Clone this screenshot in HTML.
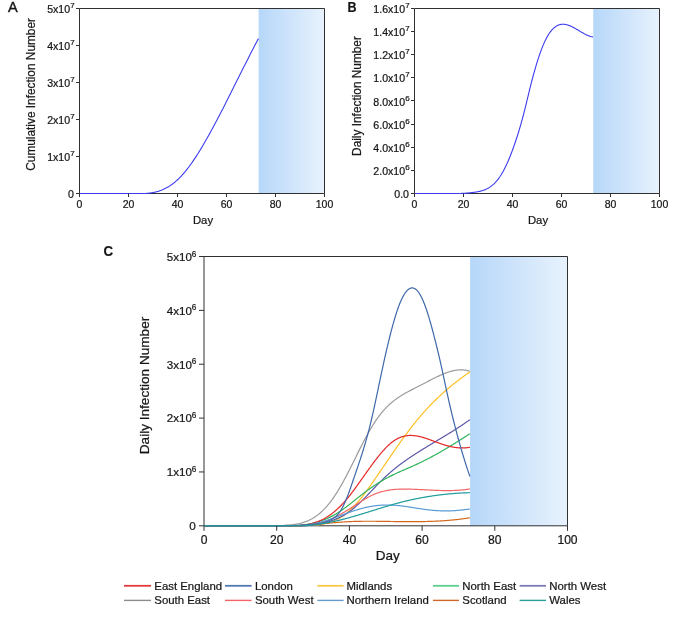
<!DOCTYPE html>
<html><head><meta charset="utf-8"><style>
html,body{margin:0;padding:0;background:#fff;}
svg{display:block;will-change:transform;filter:blur(0.35px);}
svg text{font-family:"Liberation Sans", sans-serif;fill:#161616;stroke:#161616;stroke-width:0.22px;}
</style></head><body>
<svg width="685" height="624" viewBox="0 0 685 624">
<rect width="685" height="624" fill="#fff"/>
<defs><linearGradient id="g" x1="0" x2="1" y1="0" y2="0"><stop offset="0" stop-color="#b6d7f9"/><stop offset="1" stop-color="#e8f2fd"/></linearGradient></defs>
<rect x="258.60" y="8.50" width="65.90" height="185.00" fill="url(#g)"/>
<path d="M79.5 8.5 H324.5 V193.5 H79.5 Z" fill="none" stroke="#303030" stroke-width="1"/>
<path d="M79.50 193.50 L80.00 193.50 L80.50 193.50 L81.00 193.50 L81.50 193.50 L82.00 193.50 L82.50 193.50 L83.00 193.50 L83.50 193.50 L84.00 193.50 L84.50 193.50 L85.00 193.50 L85.50 193.50 L86.00 193.50 L86.50 193.50 L87.00 193.50 L87.50 193.50 L88.00 193.50 L88.50 193.50 L89.00 193.50 L89.50 193.50 L90.00 193.50 L90.50 193.50 L91.00 193.50 L91.50 193.50 L92.00 193.50 L92.50 193.50 L93.00 193.50 L93.50 193.50 L94.00 193.50 L94.50 193.50 L95.00 193.50 L95.50 193.50 L96.00 193.50 L96.50 193.50 L97.00 193.50 L97.50 193.50 L98.00 193.50 L98.50 193.50 L99.00 193.50 L99.50 193.50 L100.00 193.50 L100.50 193.50 L101.00 193.50 L101.50 193.50 L102.00 193.50 L102.50 193.50 L103.00 193.50 L103.50 193.50 L104.00 193.50 L104.50 193.50 L105.00 193.50 L105.50 193.50 L106.00 193.50 L106.50 193.50 L107.00 193.50 L107.50 193.50 L108.00 193.50 L108.50 193.50 L109.00 193.50 L109.50 193.50 L110.00 193.50 L110.50 193.50 L111.00 193.50 L111.50 193.50 L112.00 193.50 L112.50 193.50 L113.00 193.50 L113.50 193.50 L114.00 193.50 L114.50 193.50 L115.00 193.50 L115.50 193.50 L116.00 193.50 L116.50 193.50 L117.00 193.50 L117.50 193.50 L118.00 193.50 L118.50 193.50 L119.00 193.50 L119.50 193.50 L120.00 193.50 L120.50 193.50 L121.00 193.50 L121.50 193.50 L122.00 193.50 L122.50 193.50 L123.00 193.50 L123.50 193.50 L124.00 193.50 L124.50 193.50 L125.00 193.50 L125.50 193.50 L126.00 193.50 L126.50 193.50 L127.00 193.50 L127.50 193.50 L128.00 193.50 L128.50 193.50 L129.00 193.50 L129.50 193.50 L130.00 193.50 L130.50 193.50 L131.00 193.50 L131.50 193.50 L132.00 193.50 L132.50 193.50 L133.00 193.50 L133.50 193.50 L134.00 193.50 L134.50 193.50 L135.00 193.50 L135.50 193.50 L136.00 193.50 L136.50 193.50 L137.00 193.50 L137.50 193.50 L138.00 193.50 L138.50 193.50 L139.00 193.50 L139.50 193.50 L140.00 193.50 L140.50 193.50 L141.00 193.50 L141.50 193.50 L142.00 193.50 L142.50 193.50 L143.00 193.50 L143.50 193.50 L144.00 193.50 L144.50 193.50 L145.00 193.50 L145.50 193.48 L146.00 193.45 L146.50 193.41 L147.00 193.37 L147.50 193.32 L148.00 193.28 L148.50 193.22 L149.00 193.17 L149.50 193.11 L150.00 193.04 L150.50 192.97 L151.00 192.90 L151.50 192.82 L152.00 192.74 L152.50 192.66 L153.00 192.56 L153.50 192.47 L154.00 192.37 L154.50 192.26 L155.00 192.15 L155.50 192.03 L156.00 191.91 L156.50 191.78 L157.00 191.64 L157.50 191.50 L158.00 191.36 L158.50 191.20 L159.00 191.05 L159.50 190.88 L160.00 190.71 L160.50 190.53 L161.00 190.35 L161.50 190.15 L162.00 189.96 L162.50 189.75 L163.00 189.54 L163.50 189.32 L164.00 189.09 L164.50 188.85 L165.00 188.61 L165.50 188.36 L166.00 188.10 L166.50 187.84 L167.00 187.56 L167.50 187.28 L168.00 186.99 L168.50 186.69 L169.00 186.38 L169.50 186.06 L170.00 185.74 L170.50 185.40 L171.00 185.06 L171.50 184.71 L172.00 184.35 L172.50 183.98 L173.00 183.60 L173.50 183.21 L174.00 182.81 L174.50 182.40 L175.00 181.99 L175.50 181.56 L176.00 181.13 L176.50 180.69 L177.00 180.23 L177.50 179.77 L178.00 179.30 L178.50 178.82 L179.00 178.34 L179.50 177.84 L180.00 177.33 L180.50 176.82 L181.00 176.29 L181.50 175.76 L182.00 175.22 L182.50 174.67 L183.00 174.11 L183.50 173.54 L184.00 172.97 L184.50 172.38 L185.00 171.78 L185.50 171.18 L186.00 170.57 L186.50 169.95 L187.00 169.32 L187.50 168.68 L188.00 168.03 L188.50 167.38 L189.00 166.71 L189.50 166.04 L190.00 165.36 L190.50 164.67 L191.00 163.98 L191.50 163.27 L192.00 162.56 L192.50 161.84 L193.00 161.12 L193.50 160.39 L194.00 159.65 L194.50 158.90 L195.00 158.15 L195.50 157.39 L196.00 156.62 L196.50 155.85 L197.00 155.07 L197.50 154.28 L198.00 153.49 L198.50 152.69 L199.00 151.89 L199.50 151.08 L200.00 150.26 L200.50 149.44 L201.00 148.62 L201.50 147.78 L202.00 146.95 L202.50 146.11 L203.00 145.26 L203.50 144.41 L204.00 143.55 L204.50 142.69 L205.00 141.83 L205.50 140.96 L206.00 140.09 L206.50 139.21 L207.00 138.33 L207.50 137.45 L208.00 136.56 L208.50 135.66 L209.00 134.77 L209.50 133.87 L210.00 132.96 L210.50 132.06 L211.00 131.15 L211.50 130.23 L212.00 129.31 L212.50 128.39 L213.00 127.47 L213.50 126.54 L214.00 125.61 L214.50 124.68 L215.00 123.74 L215.50 122.80 L216.00 121.86 L216.50 120.91 L217.00 119.97 L217.50 119.02 L218.00 118.06 L218.50 117.11 L219.00 116.15 L219.50 115.19 L220.00 114.23 L220.50 113.26 L221.00 112.30 L221.50 111.33 L222.00 110.36 L222.50 109.38 L223.00 108.41 L223.50 107.43 L224.00 106.45 L224.50 105.47 L225.00 104.49 L225.50 103.51 L226.00 102.52 L226.50 101.54 L227.00 100.55 L227.50 99.56 L228.00 98.57 L228.50 97.58 L229.00 96.58 L229.50 95.59 L230.00 94.60 L230.50 93.60 L231.00 92.60 L231.50 91.61 L232.00 90.61 L232.50 89.61 L233.00 88.61 L233.50 87.61 L234.00 86.61 L234.50 85.61 L235.00 84.61 L235.50 83.61 L236.00 82.61 L236.50 81.61 L237.00 80.60 L237.50 79.60 L238.00 78.60 L238.50 77.60 L239.00 76.60 L239.50 75.60 L240.00 74.60 L240.50 73.60 L241.00 72.60 L241.50 71.60 L242.00 70.60 L242.50 69.60 L243.00 68.61 L243.50 67.61 L244.00 66.61 L244.50 65.62 L245.00 64.63 L245.50 63.63 L246.00 62.64 L246.50 61.65 L247.00 60.67 L247.50 59.68 L248.00 58.69 L248.50 57.71 L249.00 56.72 L249.50 55.74 L250.00 54.76 L250.50 53.79 L251.00 52.81 L251.50 51.84 L252.00 50.86 L252.50 49.89 L253.00 48.92 L253.50 47.96 L254.00 46.99 L254.50 46.03 L255.00 45.07 L255.50 44.12 L256.00 43.16 L256.50 42.21 L257.00 41.26 L257.50 40.31 L258.00 39.37 L258.40 38.62" fill="none" stroke="#3c3cf0" stroke-width="1.1"/>
<path d="M79.5 193.5 V197.0" stroke="#303030" stroke-width="1"/>
<text x="79.50" y="207.60" font-size="10.50" text-anchor="middle">0</text>
<path d="M128.5 193.5 V197.0" stroke="#303030" stroke-width="1"/>
<text x="128.50" y="207.60" font-size="10.50" text-anchor="middle">20</text>
<path d="M177.5 193.5 V197.0" stroke="#303030" stroke-width="1"/>
<text x="177.50" y="207.60" font-size="10.50" text-anchor="middle">40</text>
<path d="M226.5 193.5 V197.0" stroke="#303030" stroke-width="1"/>
<text x="226.50" y="207.60" font-size="10.50" text-anchor="middle">60</text>
<path d="M275.5 193.5 V197.0" stroke="#303030" stroke-width="1"/>
<text x="275.50" y="207.60" font-size="10.50" text-anchor="middle">80</text>
<path d="M324.5 193.5 V197.0" stroke="#303030" stroke-width="1"/>
<text x="324.50" y="207.60" font-size="10.50" text-anchor="middle">100</text>
<path d="M76.0 193.5 H79.5" stroke="#303030" stroke-width="1"/>
<text x="74.00" y="198.00" font-size="10.60" text-anchor="end">0</text>
<path d="M76.0 156.5 H79.5" stroke="#303030" stroke-width="1"/>
<text x="74.60" y="161.00" font-size="10.6" text-anchor="end">1x10<tspan font-size="8.0" dy="-4.9">7</tspan></text>
<path d="M76.0 119.5 H79.5" stroke="#303030" stroke-width="1"/>
<text x="74.60" y="124.00" font-size="10.6" text-anchor="end">2x10<tspan font-size="8.0" dy="-4.9">7</tspan></text>
<path d="M76.0 82.5 H79.5" stroke="#303030" stroke-width="1"/>
<text x="74.60" y="87.00" font-size="10.6" text-anchor="end">3x10<tspan font-size="8.0" dy="-4.9">7</tspan></text>
<path d="M76.0 45.5 H79.5" stroke="#303030" stroke-width="1"/>
<text x="74.60" y="50.00" font-size="10.6" text-anchor="end">4x10<tspan font-size="8.0" dy="-4.9">7</tspan></text>
<path d="M76.0 8.5 H79.5" stroke="#303030" stroke-width="1"/>
<text x="74.60" y="13.00" font-size="10.6" text-anchor="end">5x10<tspan font-size="8.0" dy="-4.9">7</tspan></text>
<text x="203.00" y="224.20" font-size="11.30" text-anchor="middle">Day</text>
<text x="0" y="0" font-size="11.85" text-anchor="middle" transform="translate(34.50 94.40) rotate(-90)">Cumulative Infection Number</text>
<text transform="translate(7.90 12.10) scale(0.96 1)" font-size="15.2" style="stroke-width:0.4px">A</text>
<rect x="593.23" y="8.50" width="66.27" height="185.00" fill="url(#g)"/>
<path d="M414.5 8.5 H659.5 V193.5 H414.5 Z" fill="none" stroke="#303030" stroke-width="1"/>
<path d="M414.50 193.50 L415.00 193.50 L415.50 193.50 L416.00 193.50 L416.50 193.50 L417.00 193.50 L417.50 193.50 L418.00 193.50 L418.50 193.50 L419.00 193.50 L419.50 193.50 L420.00 193.50 L420.50 193.50 L421.00 193.50 L421.50 193.50 L422.00 193.50 L422.50 193.50 L423.00 193.50 L423.50 193.50 L424.00 193.50 L424.50 193.50 L425.00 193.50 L425.50 193.50 L426.00 193.50 L426.50 193.50 L427.00 193.50 L427.50 193.50 L428.00 193.50 L428.50 193.50 L429.00 193.50 L429.50 193.50 L430.00 193.50 L430.50 193.50 L431.00 193.50 L431.50 193.50 L432.00 193.50 L432.50 193.50 L433.00 193.50 L433.50 193.50 L434.00 193.50 L434.50 193.50 L435.00 193.50 L435.50 193.50 L436.00 193.50 L436.50 193.50 L437.00 193.50 L437.50 193.50 L438.00 193.50 L438.50 193.50 L439.00 193.50 L439.50 193.50 L440.00 193.50 L440.50 193.50 L441.00 193.50 L441.50 193.50 L442.00 193.50 L442.50 193.50 L443.00 193.50 L443.50 193.50 L444.00 193.50 L444.50 193.50 L445.00 193.50 L445.50 193.50 L446.00 193.50 L446.50 193.50 L447.00 193.50 L447.50 193.50 L448.00 193.50 L448.50 193.50 L449.00 193.50 L449.50 193.50 L450.00 193.50 L450.50 193.50 L451.00 193.50 L451.50 193.50 L452.00 193.50 L452.50 193.50 L453.00 193.50 L453.50 193.50 L454.00 193.50 L454.50 193.50 L455.00 193.50 L455.50 193.50 L456.00 193.50 L456.50 193.50 L457.00 193.50 L457.50 193.50 L458.00 193.50 L458.50 193.50 L459.00 193.50 L459.50 193.49 L460.00 193.48 L460.50 193.46 L461.00 193.44 L461.50 193.42 L462.00 193.40 L462.50 193.38 L463.00 193.35 L463.50 193.33 L464.00 193.30 L464.50 193.27 L465.00 193.24 L465.50 193.21 L466.00 193.17 L466.50 193.13 L467.00 193.10 L467.50 193.06 L468.00 193.01 L468.50 192.97 L469.00 192.92 L469.50 192.87 L470.00 192.82 L470.50 192.77 L471.00 192.71 L471.50 192.66 L472.00 192.60 L472.50 192.53 L473.00 192.47 L473.50 192.40 L474.00 192.33 L474.50 192.26 L475.00 192.19 L475.50 192.11 L476.00 192.03 L476.50 191.95 L477.00 191.86 L477.50 191.77 L478.00 191.68 L478.50 191.58 L479.00 191.48 L479.50 191.37 L480.00 191.25 L480.50 191.13 L481.00 191.00 L481.50 190.87 L482.00 190.73 L482.50 190.58 L483.00 190.42 L483.50 190.25 L484.00 190.07 L484.50 189.88 L485.00 189.68 L485.50 189.47 L486.00 189.25 L486.50 189.02 L487.00 188.77 L487.50 188.52 L488.00 188.24 L488.50 187.96 L489.00 187.66 L489.50 187.35 L490.00 187.02 L490.50 186.67 L491.00 186.31 L491.50 185.93 L492.00 185.54 L492.50 185.13 L493.00 184.70 L493.50 184.25 L494.00 183.79 L494.50 183.30 L495.00 182.79 L495.50 182.27 L496.00 181.72 L496.50 181.16 L497.00 180.57 L497.50 179.96 L498.00 179.32 L498.50 178.67 L499.00 177.99 L499.50 177.28 L500.00 176.56 L500.50 175.80 L501.00 175.03 L501.50 174.22 L502.00 173.39 L502.50 172.54 L503.00 171.65 L503.50 170.74 L504.00 169.81 L504.50 168.84 L505.00 167.85 L505.50 166.84 L506.00 165.79 L506.50 164.73 L507.00 163.64 L507.50 162.52 L508.00 161.38 L508.50 160.21 L509.00 159.02 L509.50 157.81 L510.00 156.58 L510.50 155.32 L511.00 154.04 L511.50 152.73 L512.00 151.41 L512.50 150.06 L513.00 148.69 L513.50 147.30 L514.00 145.89 L514.50 144.46 L515.00 143.00 L515.50 141.53 L516.00 140.04 L516.50 138.53 L517.00 136.99 L517.50 135.44 L518.00 133.85 L518.50 132.25 L519.00 130.61 L519.50 128.95 L520.00 127.27 L520.50 125.55 L521.00 123.80 L521.50 122.02 L522.00 120.21 L522.50 118.37 L523.00 116.49 L523.50 114.57 L524.00 112.62 L524.50 110.64 L525.00 108.64 L525.50 106.62 L526.00 104.57 L526.50 102.52 L527.00 100.46 L527.50 98.39 L528.00 96.32 L528.50 94.26 L529.00 92.20 L529.50 90.16 L530.00 88.13 L530.50 86.12 L531.00 84.14 L531.50 82.19 L532.00 80.26 L532.50 78.36 L533.00 76.49 L533.50 74.64 L534.00 72.83 L534.50 71.05 L535.00 69.29 L535.50 67.57 L536.00 65.87 L536.50 64.21 L537.00 62.58 L537.50 60.98 L538.00 59.41 L538.50 57.88 L539.00 56.38 L539.50 54.91 L540.00 53.47 L540.50 52.07 L541.00 50.71 L541.50 49.38 L542.00 48.08 L542.50 46.82 L543.00 45.59 L543.50 44.40 L544.00 43.25 L544.50 42.14 L545.00 41.06 L545.50 40.02 L546.00 39.02 L546.50 38.05 L547.00 37.13 L547.50 36.24 L548.00 35.39 L548.50 34.58 L549.00 33.80 L549.50 33.06 L550.00 32.35 L550.50 31.68 L551.00 31.04 L551.50 30.43 L552.00 29.86 L552.50 29.32 L553.00 28.81 L553.50 28.33 L554.00 27.88 L554.50 27.46 L555.00 27.07 L555.50 26.70 L556.00 26.37 L556.50 26.06 L557.00 25.78 L557.50 25.52 L558.00 25.29 L558.50 25.09 L559.00 24.90 L559.50 24.75 L560.00 24.61 L560.50 24.50 L561.00 24.41 L561.50 24.34 L562.00 24.29 L562.50 24.26 L563.00 24.25 L563.50 24.26 L564.00 24.29 L564.50 24.33 L565.00 24.40 L565.50 24.48 L566.00 24.57 L566.50 24.68 L567.00 24.81 L567.50 24.95 L568.00 25.10 L568.50 25.26 L569.00 25.44 L569.50 25.63 L570.00 25.83 L570.50 26.05 L571.00 26.27 L571.50 26.50 L572.00 26.74 L572.50 26.99 L573.00 27.24 L573.50 27.50 L574.00 27.77 L574.50 28.05 L575.00 28.33 L575.50 28.62 L576.00 28.90 L576.50 29.20 L577.00 29.49 L577.50 29.79 L578.00 30.09 L578.50 30.39 L579.00 30.69 L579.50 31.00 L580.00 31.30 L580.50 31.60 L581.00 31.89 L581.50 32.19 L582.00 32.48 L582.50 32.77 L583.00 33.06 L583.50 33.34 L584.00 33.61 L584.50 33.88 L585.00 34.14 L585.50 34.40 L586.00 34.65 L586.50 34.89 L587.00 35.12 L587.50 35.34 L588.00 35.55 L588.50 35.75 L589.00 35.94 L589.50 36.11 L590.00 36.28 L590.50 36.43 L591.00 36.57 L591.50 36.69 L592.00 36.80 L592.50 36.90 L593.00 36.97" fill="none" stroke="#3c3cf0" stroke-width="1.1"/>
<path d="M414.5 193.5 V197.0" stroke="#303030" stroke-width="1"/>
<text x="414.50" y="207.60" font-size="10.50" text-anchor="middle">0</text>
<path d="M463.5 193.5 V197.0" stroke="#303030" stroke-width="1"/>
<text x="463.50" y="207.60" font-size="10.50" text-anchor="middle">20</text>
<path d="M512.5 193.5 V197.0" stroke="#303030" stroke-width="1"/>
<text x="512.50" y="207.60" font-size="10.50" text-anchor="middle">40</text>
<path d="M561.5 193.5 V197.0" stroke="#303030" stroke-width="1"/>
<text x="561.50" y="207.60" font-size="10.50" text-anchor="middle">60</text>
<path d="M610.5 193.5 V197.0" stroke="#303030" stroke-width="1"/>
<text x="610.50" y="207.60" font-size="10.50" text-anchor="middle">80</text>
<path d="M659.5 193.5 V197.0" stroke="#303030" stroke-width="1"/>
<text x="659.50" y="207.60" font-size="10.50" text-anchor="middle">100</text>
<path d="M411.0 193.5 H414.5" stroke="#303030" stroke-width="1"/>
<text x="409.00" y="198.00" font-size="10.60" text-anchor="end">0.0</text>
<path d="M411.0 170.5 H414.5" stroke="#303030" stroke-width="1"/>
<text x="409.60" y="174.88" font-size="10.6" text-anchor="end">2.0x10<tspan font-size="8.0" dy="-4.9">6</tspan></text>
<path d="M411.0 147.5 H414.5" stroke="#303030" stroke-width="1"/>
<text x="409.60" y="151.75" font-size="10.6" text-anchor="end">4.0x10<tspan font-size="8.0" dy="-4.9">6</tspan></text>
<path d="M411.0 124.5 H414.5" stroke="#303030" stroke-width="1"/>
<text x="409.60" y="128.62" font-size="10.6" text-anchor="end">6.0x10<tspan font-size="8.0" dy="-4.9">6</tspan></text>
<path d="M411.0 100.5 H414.5" stroke="#303030" stroke-width="1"/>
<text x="409.60" y="105.50" font-size="10.6" text-anchor="end">8.0x10<tspan font-size="8.0" dy="-4.9">6</tspan></text>
<path d="M411.0 77.5 H414.5" stroke="#303030" stroke-width="1"/>
<text x="409.60" y="82.38" font-size="10.6" text-anchor="end">1.0x10<tspan font-size="8.0" dy="-4.9">7</tspan></text>
<path d="M411.0 54.5 H414.5" stroke="#303030" stroke-width="1"/>
<text x="409.60" y="59.25" font-size="10.6" text-anchor="end">1.2x10<tspan font-size="8.0" dy="-4.9">7</tspan></text>
<path d="M411.0 31.5 H414.5" stroke="#303030" stroke-width="1"/>
<text x="409.60" y="36.12" font-size="10.6" text-anchor="end">1.4x10<tspan font-size="8.0" dy="-4.9">7</tspan></text>
<path d="M411.0 8.5 H414.5" stroke="#303030" stroke-width="1"/>
<text x="409.60" y="13.00" font-size="10.6" text-anchor="end">1.6x10<tspan font-size="8.0" dy="-4.9">7</tspan></text>
<text x="538.00" y="224.20" font-size="11.30" text-anchor="middle">Day</text>
<text x="0" y="0" font-size="11.85" text-anchor="middle" transform="translate(361.30 96.00) rotate(-90)">Daily Infection Number</text>
<text transform="translate(347.60 12.20) scale(0.81 1)" font-size="15.5" font-weight="bold">B</text>
<rect x="470.08" y="256.50" width="97.42" height="269.30" fill="url(#g)"/>
<path d="M204.0 256.5 H567.5 V525.8 H204.0 Z" fill="none" stroke="#303030" stroke-width="1"/>
<path d="M204.00 525.80 L204.50 525.80 L205.00 525.80 L205.50 525.80 L206.00 525.80 L206.50 525.80 L207.00 525.80 L207.50 525.80 L208.00 525.80 L208.50 525.80 L209.00 525.80 L209.50 525.80 L210.00 525.80 L210.50 525.80 L211.00 525.80 L211.50 525.80 L212.00 525.80 L212.50 525.80 L213.00 525.80 L213.50 525.80 L214.00 525.80 L214.50 525.80 L215.00 525.80 L215.50 525.80 L216.00 525.80 L216.50 525.80 L217.00 525.80 L217.50 525.80 L218.00 525.80 L218.50 525.80 L219.00 525.80 L219.50 525.80 L220.00 525.80 L220.50 525.80 L221.00 525.80 L221.50 525.80 L222.00 525.80 L222.50 525.80 L223.00 525.80 L223.50 525.80 L224.00 525.80 L224.50 525.80 L225.00 525.80 L225.50 525.80 L226.00 525.80 L226.50 525.80 L227.00 525.80 L227.50 525.80 L228.00 525.80 L228.50 525.80 L229.00 525.80 L229.50 525.80 L230.00 525.80 L230.50 525.80 L231.00 525.80 L231.50 525.80 L232.00 525.80 L232.50 525.80 L233.00 525.80 L233.50 525.80 L234.00 525.80 L234.50 525.80 L235.00 525.80 L235.50 525.80 L236.00 525.80 L236.50 525.80 L237.00 525.80 L237.50 525.80 L238.00 525.80 L238.50 525.80 L239.00 525.80 L239.50 525.80 L240.00 525.80 L240.50 525.80 L241.00 525.80 L241.50 525.80 L242.00 525.80 L242.50 525.80 L243.00 525.80 L243.50 525.80 L244.00 525.80 L244.50 525.80 L245.00 525.80 L245.50 525.80 L246.00 525.80 L246.50 525.80 L247.00 525.80 L247.50 525.80 L248.00 525.80 L248.50 525.80 L249.00 525.80 L249.50 525.80 L250.00 525.80 L250.50 525.80 L251.00 525.80 L251.50 525.80 L252.00 525.80 L252.50 525.80 L253.00 525.80 L253.50 525.80 L254.00 525.80 L254.50 525.80 L255.00 525.80 L255.50 525.80 L256.00 525.80 L256.50 525.80 L257.00 525.80 L257.50 525.80 L258.00 525.80 L258.50 525.80 L259.00 525.80 L259.50 525.80 L260.00 525.80 L260.50 525.80 L261.00 525.80 L261.50 525.80 L262.00 525.80 L262.50 525.80 L263.00 525.80 L263.50 525.80 L264.00 525.80 L264.50 525.80 L265.00 525.80 L265.50 525.80 L266.00 525.80 L266.50 525.80 L267.00 525.80 L267.50 525.80 L268.00 525.80 L268.50 525.80 L269.00 525.80 L269.50 525.80 L270.00 525.80 L270.50 525.80 L271.00 525.80 L271.50 525.80 L272.00 525.80 L272.50 525.80 L273.00 525.80 L273.50 525.80 L274.00 525.80 L274.50 525.80 L275.00 525.80 L275.50 525.80 L276.00 525.80 L276.50 525.80 L277.00 525.80 L277.50 525.80 L278.00 525.80 L278.50 525.80 L279.00 525.80 L279.50 525.80 L280.00 525.80 L280.50 525.76 L281.00 525.72 L281.50 525.68 L282.00 525.64 L282.50 525.60 L283.00 525.55 L283.50 525.50 L284.00 525.44 L284.50 525.38 L285.00 525.32 L285.50 525.25 L286.00 525.18 L286.50 525.15 L287.00 525.13 L287.50 525.10 L288.00 525.07 L288.50 525.04 L289.00 525.00 L289.50 524.96 L290.00 524.92 L290.50 524.88 L291.00 524.83 L291.50 524.78 L292.00 524.73 L292.50 524.68 L293.00 524.62 L293.50 524.56 L294.00 524.49 L294.50 524.42 L295.00 524.35 L295.50 524.27 L296.00 524.19 L296.50 524.11 L297.00 524.02 L297.50 523.93 L298.00 523.83 L298.50 523.72 L299.00 523.62 L299.50 523.50 L300.00 523.39 L300.50 523.26 L301.00 523.14 L301.50 523.00 L302.00 522.86 L302.50 522.72 L303.00 522.57 L303.50 522.41 L304.00 522.25 L304.50 522.08 L305.00 521.90 L305.50 521.72 L306.00 521.54 L306.50 521.34 L307.00 521.14 L307.50 520.93 L308.00 520.72 L308.50 520.49 L309.00 520.27 L309.50 520.03 L310.00 519.78 L310.50 519.53 L311.00 519.27 L311.50 519.01 L312.00 518.73 L312.50 518.45 L313.00 518.15 L313.50 517.85 L314.00 517.55 L314.50 517.23 L315.00 516.90 L315.50 516.57 L316.00 516.22 L316.50 515.87 L317.00 515.51 L317.50 515.14 L318.00 514.76 L318.50 514.37 L319.00 513.97 L319.50 513.56 L320.00 513.14 L320.50 512.71 L321.00 512.27 L321.50 511.82 L322.00 511.36 L322.50 510.88 L323.00 510.40 L323.50 509.91 L324.00 509.40 L324.50 508.89 L325.00 508.36 L325.50 507.83 L326.00 507.28 L326.50 506.72 L327.00 506.15 L327.50 505.56 L328.00 504.97 L328.50 504.36 L329.00 503.74 L329.50 503.11 L330.00 502.47 L330.50 501.82 L331.00 501.16 L331.50 500.48 L332.00 499.80 L332.50 499.10 L333.00 498.39 L333.50 497.67 L334.00 496.95 L334.50 496.21 L335.00 495.46 L335.50 494.70 L336.00 493.93 L336.50 493.14 L337.00 492.35 L337.50 491.55 L338.00 490.74 L338.50 489.92 L339.00 489.09 L339.50 488.24 L340.00 487.39 L340.50 486.53 L341.00 485.66 L341.50 484.78 L342.00 483.89 L342.50 483.00 L343.00 482.09 L343.50 481.18 L344.00 480.25 L344.50 479.33 L345.00 478.39 L345.50 477.45 L346.00 476.50 L346.50 475.54 L347.00 474.58 L347.50 473.62 L348.00 472.65 L348.50 471.67 L349.00 470.69 L349.50 469.70 L350.00 468.71 L350.50 467.72 L351.00 466.72 L351.50 465.72 L352.00 464.72 L352.50 463.72 L353.00 462.71 L353.50 461.70 L354.00 460.69 L354.50 459.68 L355.00 458.67 L355.50 457.66 L356.00 456.65 L356.50 455.65 L357.00 454.64 L357.50 453.63 L358.00 452.63 L358.50 451.62 L359.00 450.62 L359.50 449.63 L360.00 448.63 L360.50 447.64 L361.00 446.66 L361.50 445.67 L362.00 444.70 L362.50 443.72 L363.00 442.76 L363.50 441.80 L364.00 440.84 L364.50 439.89 L365.00 438.95 L365.50 438.02 L366.00 437.09 L366.50 436.17 L367.00 435.26 L367.50 434.36 L368.00 433.46 L368.50 432.58 L369.00 431.70 L369.50 430.83 L370.00 429.97 L370.50 429.11 L371.00 428.27 L371.50 427.43 L372.00 426.61 L372.50 425.79 L373.00 424.99 L373.50 424.19 L374.00 423.40 L374.50 422.63 L375.00 421.86 L375.50 421.11 L376.00 420.36 L376.50 419.63 L377.00 418.91 L377.50 418.20 L378.00 417.50 L378.50 416.81 L379.00 416.14 L379.50 415.48 L380.00 414.82 L380.50 414.18 L381.00 413.56 L381.50 412.94 L382.00 412.33 L382.50 411.74 L383.00 411.15 L383.50 410.58 L384.00 410.01 L384.50 409.46 L385.00 408.91 L385.50 408.38 L386.00 407.86 L386.50 407.34 L387.00 406.84 L387.50 406.34 L388.00 405.85 L388.50 405.37 L389.00 404.90 L389.50 404.44 L390.00 403.99 L390.50 403.54 L391.00 403.11 L391.50 402.68 L392.00 402.25 L392.50 401.84 L393.00 401.43 L393.50 401.03 L394.00 400.64 L394.50 400.25 L395.00 399.87 L395.50 399.50 L396.00 399.13 L396.50 398.77 L397.00 398.41 L397.50 398.06 L398.00 397.72 L398.50 397.38 L399.00 397.05 L399.50 396.72 L400.00 396.39 L400.50 396.07 L401.00 395.76 L401.50 395.45 L402.00 395.14 L402.50 394.84 L403.00 394.54 L403.50 394.24 L404.00 393.95 L404.50 393.66 L405.00 393.38 L405.50 393.09 L406.00 392.81 L406.50 392.54 L407.00 392.26 L407.50 391.99 L408.00 391.72 L408.50 391.45 L409.00 391.18 L409.50 390.92 L410.00 390.65 L410.50 390.39 L411.00 390.13 L411.50 389.87 L412.00 389.61 L412.50 389.35 L413.00 389.10 L413.50 388.84 L414.00 388.59 L414.50 388.33 L415.00 388.08 L415.50 387.83 L416.00 387.57 L416.50 387.32 L417.00 387.07 L417.50 386.82 L418.00 386.56 L418.50 386.31 L419.00 386.06 L419.50 385.81 L420.00 385.55 L420.50 385.30 L421.00 385.04 L421.50 384.79 L422.00 384.53 L422.50 384.27 L423.00 384.01 L423.50 383.75 L424.00 383.49 L424.50 383.23 L425.00 382.97 L425.50 382.71 L426.00 382.45 L426.50 382.19 L427.00 381.92 L427.50 381.66 L428.00 381.40 L428.50 381.14 L429.00 380.88 L429.50 380.61 L430.00 380.35 L430.50 380.09 L431.00 379.83 L431.50 379.57 L432.00 379.32 L432.50 379.06 L433.00 378.80 L433.50 378.55 L434.00 378.30 L434.50 378.05 L435.00 377.80 L435.50 377.55 L436.00 377.30 L436.50 377.06 L437.00 376.81 L437.50 376.57 L438.00 376.34 L438.50 376.10 L439.00 375.87 L439.50 375.64 L440.00 375.41 L440.50 375.18 L441.00 374.96 L441.50 374.74 L442.00 374.52 L442.50 374.31 L443.00 374.10 L443.50 373.89 L444.00 373.69 L444.50 373.49 L445.00 373.29 L445.50 373.10 L446.00 372.91 L446.50 372.73 L447.00 372.55 L447.50 372.38 L448.00 372.21 L448.50 372.04 L449.00 371.88 L449.50 371.73 L450.00 371.58 L450.50 371.43 L451.00 371.30 L451.50 371.16 L452.00 371.03 L452.50 370.91 L453.00 370.80 L453.50 370.69 L454.00 370.58 L454.50 370.48 L455.00 370.39 L455.50 370.31 L456.00 370.23 L456.50 370.16 L457.00 370.10 L457.50 370.04 L458.00 369.99 L458.50 369.95 L459.00 369.91 L459.50 369.89 L460.00 369.87 L460.50 369.86 L461.00 369.85 L461.50 369.86 L462.00 369.87 L462.50 369.89 L463.00 369.92 L463.50 369.96 L464.00 370.01 L464.50 370.06 L465.00 370.13 L465.50 370.21 L466.00 370.29 L466.50 370.38 L467.00 370.49 L467.50 370.60 L468.00 370.72 L468.50 370.85 L469.00 371.00 L469.50 371.15 L469.90 371.28" fill="none" stroke="#9b9b9b" stroke-width="1.2"/>
<path d="M204.00 525.80 L204.50 525.80 L205.00 525.80 L205.50 525.80 L206.00 525.80 L206.50 525.80 L207.00 525.80 L207.50 525.80 L208.00 525.80 L208.50 525.80 L209.00 525.80 L209.50 525.80 L210.00 525.80 L210.50 525.80 L211.00 525.80 L211.50 525.80 L212.00 525.80 L212.50 525.80 L213.00 525.80 L213.50 525.80 L214.00 525.80 L214.50 525.80 L215.00 525.80 L215.50 525.80 L216.00 525.80 L216.50 525.80 L217.00 525.80 L217.50 525.80 L218.00 525.80 L218.50 525.80 L219.00 525.80 L219.50 525.80 L220.00 525.80 L220.50 525.80 L221.00 525.80 L221.50 525.80 L222.00 525.80 L222.50 525.80 L223.00 525.80 L223.50 525.80 L224.00 525.80 L224.50 525.80 L225.00 525.80 L225.50 525.80 L226.00 525.80 L226.50 525.80 L227.00 525.80 L227.50 525.80 L228.00 525.80 L228.50 525.80 L229.00 525.80 L229.50 525.80 L230.00 525.80 L230.50 525.80 L231.00 525.80 L231.50 525.80 L232.00 525.80 L232.50 525.80 L233.00 525.80 L233.50 525.80 L234.00 525.80 L234.50 525.80 L235.00 525.80 L235.50 525.80 L236.00 525.80 L236.50 525.80 L237.00 525.80 L237.50 525.80 L238.00 525.80 L238.50 525.80 L239.00 525.80 L239.50 525.80 L240.00 525.80 L240.50 525.80 L241.00 525.80 L241.50 525.80 L242.00 525.80 L242.50 525.80 L243.00 525.80 L243.50 525.80 L244.00 525.80 L244.50 525.80 L245.00 525.80 L245.50 525.80 L246.00 525.80 L246.50 525.80 L247.00 525.80 L247.50 525.80 L248.00 525.80 L248.50 525.80 L249.00 525.80 L249.50 525.80 L250.00 525.80 L250.50 525.80 L251.00 525.80 L251.50 525.80 L252.00 525.80 L252.50 525.80 L253.00 525.80 L253.50 525.80 L254.00 525.80 L254.50 525.80 L255.00 525.80 L255.50 525.80 L256.00 525.80 L256.50 525.80 L257.00 525.80 L257.50 525.80 L258.00 525.80 L258.50 525.80 L259.00 525.80 L259.50 525.80 L260.00 525.80 L260.50 525.80 L261.00 525.80 L261.50 525.80 L262.00 525.80 L262.50 525.80 L263.00 525.80 L263.50 525.80 L264.00 525.80 L264.50 525.80 L265.00 525.80 L265.50 525.80 L266.00 525.80 L266.50 525.80 L267.00 525.80 L267.50 525.80 L268.00 525.80 L268.50 525.80 L269.00 525.80 L269.50 525.80 L270.00 525.80 L270.50 525.80 L271.00 525.80 L271.50 525.80 L272.00 525.80 L272.50 525.80 L273.00 525.80 L273.50 525.80 L274.00 525.80 L274.50 525.80 L275.00 525.80 L275.50 525.80 L276.00 525.80 L276.50 525.80 L277.00 525.80 L277.50 525.80 L278.00 525.80 L278.50 525.80 L279.00 525.80 L279.50 525.80 L280.00 525.80 L280.50 525.80 L281.00 525.80 L281.50 525.80 L282.00 525.80 L282.50 525.80 L283.00 525.80 L283.50 525.80 L284.00 525.80 L284.50 525.80 L285.00 525.80 L285.50 525.80 L286.00 525.80 L286.50 525.80 L287.00 525.80 L287.50 525.80 L288.00 525.80 L288.50 525.80 L289.00 525.80 L289.50 525.80 L290.00 525.80 L290.50 525.80 L291.00 525.80 L291.50 525.80 L292.00 525.80 L292.50 525.80 L293.00 525.80 L293.50 525.80 L294.00 525.80 L294.50 525.80 L295.00 525.80 L295.50 525.78 L296.00 525.75 L296.50 525.72 L297.00 525.69 L297.50 525.66 L298.00 525.63 L298.50 525.60 L299.00 525.57 L299.50 525.53 L300.00 525.50 L300.50 525.46 L301.00 525.42 L301.50 525.41 L302.00 525.41 L302.50 525.40 L303.00 525.39 L303.50 525.38 L304.00 525.37 L304.50 525.37 L305.00 525.36 L305.50 525.35 L306.00 525.34 L306.50 525.34 L307.00 525.33 L307.50 525.32 L308.00 525.31 L308.50 525.30 L309.00 525.29 L309.50 525.28 L310.00 525.26 L310.50 525.25 L311.00 525.23 L311.50 525.22 L312.00 525.20 L312.50 525.18 L313.00 525.15 L313.50 525.13 L314.00 525.10 L314.50 525.08 L315.00 525.04 L315.50 525.01 L316.00 524.98 L316.50 524.94 L317.00 524.90 L317.50 524.85 L318.00 524.80 L318.50 524.75 L319.00 524.70 L319.50 524.64 L320.00 524.58 L320.50 524.52 L321.00 524.45 L321.50 524.38 L322.00 524.30 L322.50 524.22 L323.00 524.14 L323.50 524.05 L324.00 523.95 L324.50 523.86 L325.00 523.75 L325.50 523.65 L326.00 523.53 L326.50 523.42 L327.00 523.29 L327.50 523.17 L328.00 523.03 L328.50 522.89 L329.00 522.75 L329.50 522.60 L330.00 522.44 L330.50 522.28 L331.00 522.11 L331.50 521.93 L332.00 521.75 L332.50 521.56 L333.00 521.37 L333.50 521.17 L334.00 520.96 L334.50 520.74 L335.00 520.52 L335.50 520.29 L336.00 520.05 L336.50 519.80 L337.00 519.55 L337.50 519.29 L338.00 519.02 L338.50 518.74 L339.00 518.46 L339.50 518.17 L340.00 517.87 L340.50 517.56 L341.00 517.24 L341.50 516.92 L342.00 516.58 L342.50 516.24 L343.00 515.89 L343.50 515.54 L344.00 515.17 L344.50 514.80 L345.00 514.42 L345.50 514.03 L346.00 513.64 L346.50 513.23 L347.00 512.82 L347.50 512.40 L348.00 511.98 L348.50 511.54 L349.00 511.10 L349.50 510.65 L350.00 510.19 L350.50 509.73 L351.00 509.26 L351.50 508.78 L352.00 508.29 L352.50 507.80 L353.00 507.29 L353.50 506.78 L354.00 506.27 L354.50 505.74 L355.00 505.21 L355.50 504.67 L356.00 504.13 L356.50 503.57 L357.00 503.01 L357.50 502.45 L358.00 501.87 L358.50 501.29 L359.00 500.70 L359.50 500.11 L360.00 499.50 L360.50 498.89 L361.00 498.27 L361.50 497.65 L362.00 497.02 L362.50 496.38 L363.00 495.74 L363.50 495.09 L364.00 494.43 L364.50 493.77 L365.00 493.10 L365.50 492.42 L366.00 491.75 L366.50 491.06 L367.00 490.38 L367.50 489.68 L368.00 488.99 L368.50 488.29 L369.00 487.58 L369.50 486.88 L370.00 486.17 L370.50 485.46 L371.00 484.74 L371.50 484.02 L372.00 483.31 L372.50 482.58 L373.00 481.86 L373.50 481.14 L374.00 480.42 L374.50 479.69 L375.00 478.96 L375.50 478.24 L376.00 477.51 L376.50 476.78 L377.00 476.05 L377.50 475.32 L378.00 474.59 L378.50 473.86 L379.00 473.13 L379.50 472.40 L380.00 471.67 L380.50 470.93 L381.00 470.20 L381.50 469.47 L382.00 468.73 L382.50 468.00 L383.00 467.27 L383.50 466.53 L384.00 465.80 L384.50 465.07 L385.00 464.33 L385.50 463.60 L386.00 462.87 L386.50 462.14 L387.00 461.40 L387.50 460.67 L388.00 459.94 L388.50 459.21 L389.00 458.48 L389.50 457.75 L390.00 457.02 L390.50 456.29 L391.00 455.57 L391.50 454.84 L392.00 454.12 L392.50 453.39 L393.00 452.67 L393.50 451.95 L394.00 451.22 L394.50 450.50 L395.00 449.79 L395.50 449.07 L396.00 448.35 L396.50 447.64 L397.00 446.92 L397.50 446.21 L398.00 445.50 L398.50 444.79 L399.00 444.08 L399.50 443.38 L400.00 442.68 L400.50 441.97 L401.00 441.27 L401.50 440.58 L402.00 439.88 L402.50 439.18 L403.00 438.49 L403.50 437.80 L404.00 437.12 L404.50 436.43 L405.00 435.75 L405.50 435.07 L406.00 434.39 L406.50 433.71 L407.00 433.04 L407.50 432.37 L408.00 431.70 L408.50 431.03 L409.00 430.37 L409.50 429.71 L410.00 429.05 L410.50 428.40 L411.00 427.75 L411.50 427.10 L412.00 426.46 L412.50 425.81 L413.00 425.17 L413.50 424.54 L414.00 423.91 L414.50 423.28 L415.00 422.65 L415.50 422.03 L416.00 421.41 L416.50 420.79 L417.00 420.18 L417.50 419.57 L418.00 418.97 L418.50 418.37 L419.00 417.77 L419.50 417.18 L420.00 416.59 L420.50 416.00 L421.00 415.42 L421.50 414.84 L422.00 414.27 L422.50 413.69 L423.00 413.13 L423.50 412.56 L424.00 412.00 L424.50 411.44 L425.00 410.89 L425.50 410.34 L426.00 409.79 L426.50 409.24 L427.00 408.70 L427.50 408.16 L428.00 407.63 L428.50 407.10 L429.00 406.57 L429.50 406.04 L430.00 405.52 L430.50 405.00 L431.00 404.48 L431.50 403.97 L432.00 403.46 L432.50 402.95 L433.00 402.45 L433.50 401.95 L434.00 401.45 L434.50 400.96 L435.00 400.46 L435.50 399.98 L436.00 399.49 L436.50 399.01 L437.00 398.52 L437.50 398.05 L438.00 397.57 L438.50 397.10 L439.00 396.63 L439.50 396.16 L440.00 395.70 L440.50 395.24 L441.00 394.78 L441.50 394.32 L442.00 393.87 L442.50 393.41 L443.00 392.97 L443.50 392.52 L444.00 392.08 L444.50 391.63 L445.00 391.19 L445.50 390.76 L446.00 390.32 L446.50 389.89 L447.00 389.46 L447.50 389.03 L448.00 388.61 L448.50 388.19 L449.00 387.77 L449.50 387.35 L450.00 386.93 L450.50 386.52 L451.00 386.10 L451.50 385.69 L452.00 385.29 L452.50 384.88 L453.00 384.48 L453.50 384.08 L454.00 383.68 L454.50 383.28 L455.00 382.88 L455.50 382.49 L456.00 382.10 L456.50 381.71 L457.00 381.32 L457.50 380.93 L458.00 380.55 L458.50 380.16 L459.00 379.78 L459.50 379.40 L460.00 379.03 L460.50 378.65 L461.00 378.28 L461.50 377.90 L462.00 377.53 L462.50 377.16 L463.00 376.80 L463.50 376.43 L464.00 376.06 L464.50 375.70 L465.00 375.34 L465.50 374.98 L466.00 374.62 L466.50 374.26 L467.00 373.90 L467.50 373.55 L468.00 373.20 L468.50 372.84 L469.00 372.49 L469.50 372.14 L469.90 371.86" fill="none" stroke="#fcc020" stroke-width="1.2"/>
<path d="M204.00 525.80 L204.50 525.80 L205.00 525.80 L205.50 525.80 L206.00 525.80 L206.50 525.80 L207.00 525.80 L207.50 525.80 L208.00 525.80 L208.50 525.80 L209.00 525.80 L209.50 525.80 L210.00 525.80 L210.50 525.80 L211.00 525.80 L211.50 525.80 L212.00 525.80 L212.50 525.80 L213.00 525.80 L213.50 525.80 L214.00 525.80 L214.50 525.80 L215.00 525.80 L215.50 525.80 L216.00 525.80 L216.50 525.80 L217.00 525.80 L217.50 525.80 L218.00 525.80 L218.50 525.80 L219.00 525.80 L219.50 525.80 L220.00 525.80 L220.50 525.80 L221.00 525.80 L221.50 525.80 L222.00 525.80 L222.50 525.80 L223.00 525.80 L223.50 525.80 L224.00 525.80 L224.50 525.80 L225.00 525.80 L225.50 525.80 L226.00 525.80 L226.50 525.80 L227.00 525.80 L227.50 525.80 L228.00 525.80 L228.50 525.80 L229.00 525.80 L229.50 525.80 L230.00 525.80 L230.50 525.80 L231.00 525.80 L231.50 525.80 L232.00 525.80 L232.50 525.80 L233.00 525.80 L233.50 525.80 L234.00 525.80 L234.50 525.80 L235.00 525.80 L235.50 525.80 L236.00 525.80 L236.50 525.80 L237.00 525.80 L237.50 525.80 L238.00 525.80 L238.50 525.80 L239.00 525.80 L239.50 525.80 L240.00 525.80 L240.50 525.80 L241.00 525.80 L241.50 525.80 L242.00 525.80 L242.50 525.80 L243.00 525.80 L243.50 525.80 L244.00 525.80 L244.50 525.80 L245.00 525.80 L245.50 525.80 L246.00 525.80 L246.50 525.80 L247.00 525.80 L247.50 525.80 L248.00 525.80 L248.50 525.80 L249.00 525.80 L249.50 525.80 L250.00 525.80 L250.50 525.80 L251.00 525.80 L251.50 525.80 L252.00 525.80 L252.50 525.80 L253.00 525.80 L253.50 525.80 L254.00 525.80 L254.50 525.80 L255.00 525.80 L255.50 525.80 L256.00 525.80 L256.50 525.80 L257.00 525.80 L257.50 525.80 L258.00 525.80 L258.50 525.80 L259.00 525.80 L259.50 525.80 L260.00 525.80 L260.50 525.80 L261.00 525.80 L261.50 525.80 L262.00 525.80 L262.50 525.80 L263.00 525.80 L263.50 525.80 L264.00 525.80 L264.50 525.80 L265.00 525.80 L265.50 525.80 L266.00 525.80 L266.50 525.80 L267.00 525.80 L267.50 525.80 L268.00 525.80 L268.50 525.80 L269.00 525.80 L269.50 525.80 L270.00 525.80 L270.50 525.80 L271.00 525.80 L271.50 525.80 L272.00 525.80 L272.50 525.80 L273.00 525.80 L273.50 525.80 L274.00 525.80 L274.50 525.80 L275.00 525.80 L275.50 525.80 L276.00 525.80 L276.50 525.80 L277.00 525.80 L277.50 525.80 L278.00 525.80 L278.50 525.80 L279.00 525.80 L279.50 525.80 L280.00 525.80 L280.50 525.80 L281.00 525.80 L281.50 525.80 L282.00 525.80 L282.50 525.80 L283.00 525.80 L283.50 525.80 L284.00 525.80 L284.50 525.80 L285.00 525.80 L285.50 525.80 L286.00 525.80 L286.50 525.80 L287.00 525.80 L287.50 525.80 L288.00 525.80 L288.50 525.80 L289.00 525.80 L289.50 525.80 L290.00 525.80 L290.50 525.80 L291.00 525.80 L291.50 525.80 L292.00 525.80 L292.50 525.80 L293.00 525.80 L293.50 525.80 L294.00 525.80 L294.50 525.80 L295.00 525.80 L295.50 525.80 L296.00 525.80 L296.50 525.80 L297.00 525.80 L297.50 525.80 L298.00 525.80 L298.50 525.80 L299.00 525.80 L299.50 525.80 L300.00 525.80 L300.50 525.80 L301.00 525.80 L301.50 525.80 L302.00 525.80 L302.50 525.80 L303.00 525.80 L303.50 525.80 L304.00 525.80 L304.50 525.80 L305.00 525.77 L305.50 525.74 L306.00 525.71 L306.50 525.68 L307.00 525.64 L307.50 525.60 L308.00 525.56 L308.50 525.52 L309.00 525.47 L309.50 525.43 L310.00 525.38 L310.50 525.33 L311.00 525.28 L311.50 525.22 L312.00 525.16 L312.50 525.10 L313.00 525.04 L313.50 524.98 L314.00 524.91 L314.50 524.84 L315.00 524.77 L315.50 524.69 L316.00 524.62 L316.50 524.54 L317.00 524.46 L317.50 524.37 L318.00 524.29 L318.50 524.20 L319.00 524.10 L319.50 524.01 L320.00 523.91 L320.50 523.81 L321.00 523.70 L321.50 523.60 L322.00 523.49 L322.50 523.37 L323.00 523.26 L323.50 523.14 L324.00 523.02 L324.50 522.89 L325.00 522.76 L325.50 522.63 L326.00 522.50 L326.50 522.36 L327.00 522.22 L327.50 522.07 L328.00 521.92 L328.50 521.77 L329.00 521.62 L329.50 521.46 L330.00 521.30 L330.50 521.13 L331.00 520.96 L331.50 520.79 L332.00 520.61 L332.50 520.43 L333.00 520.25 L333.50 520.06 L334.00 519.87 L334.50 519.67 L335.00 519.47 L335.50 519.27 L336.00 519.06 L336.50 518.85 L337.00 518.63 L337.50 518.41 L338.00 518.19 L338.50 517.96 L339.00 517.73 L339.50 517.49 L340.00 517.25 L340.50 517.01 L341.00 516.76 L341.50 516.50 L342.00 516.24 L342.50 515.98 L343.00 515.71 L343.50 515.43 L344.00 515.15 L344.50 514.86 L345.00 514.56 L345.50 514.26 L346.00 513.95 L346.50 513.64 L347.00 513.32 L347.50 512.99 L348.00 512.66 L348.50 512.32 L349.00 511.97 L349.50 511.61 L350.00 511.25 L350.50 510.87 L351.00 510.49 L351.50 510.11 L352.00 509.71 L352.50 509.31 L353.00 508.90 L353.50 508.49 L354.00 508.07 L354.50 507.64 L355.00 507.21 L355.50 506.77 L356.00 506.32 L356.50 505.87 L357.00 505.42 L357.50 504.96 L358.00 504.49 L358.50 504.02 L359.00 503.55 L359.50 503.07 L360.00 502.59 L360.50 502.11 L361.00 501.62 L361.50 501.13 L362.00 500.63 L362.50 500.14 L363.00 499.64 L363.50 499.13 L364.00 498.63 L364.50 498.12 L365.00 497.61 L365.50 497.10 L366.00 496.59 L366.50 496.07 L367.00 495.56 L367.50 495.04 L368.00 494.52 L368.50 494.00 L369.00 493.48 L369.50 492.96 L370.00 492.44 L370.50 491.91 L371.00 491.39 L371.50 490.87 L372.00 490.34 L372.50 489.82 L373.00 489.30 L373.50 488.77 L374.00 488.25 L374.50 487.73 L375.00 487.21 L375.50 486.69 L376.00 486.17 L376.50 485.65 L377.00 485.14 L377.50 484.62 L378.00 484.11 L378.50 483.60 L379.00 483.09 L379.50 482.58 L380.00 482.08 L380.50 481.58 L381.00 481.08 L381.50 480.58 L382.00 480.09 L382.50 479.60 L383.00 479.11 L383.50 478.63 L384.00 478.15 L384.50 477.67 L385.00 477.20 L385.50 476.73 L386.00 476.26 L386.50 475.80 L387.00 475.34 L387.50 474.89 L388.00 474.44 L388.50 473.99 L389.00 473.54 L389.50 473.10 L390.00 472.67 L390.50 472.24 L391.00 471.81 L391.50 471.38 L392.00 470.96 L392.50 470.54 L393.00 470.12 L393.50 469.71 L394.00 469.29 L394.50 468.89 L395.00 468.48 L395.50 468.08 L396.00 467.68 L396.50 467.29 L397.00 466.89 L397.50 466.50 L398.00 466.11 L398.50 465.73 L399.00 465.35 L399.50 464.97 L400.00 464.59 L400.50 464.21 L401.00 463.84 L401.50 463.47 L402.00 463.10 L402.50 462.74 L403.00 462.37 L403.50 462.01 L404.00 461.65 L404.50 461.29 L405.00 460.94 L405.50 460.59 L406.00 460.23 L406.50 459.88 L407.00 459.54 L407.50 459.19 L408.00 458.85 L408.50 458.50 L409.00 458.16 L409.50 457.82 L410.00 457.48 L410.50 457.15 L411.00 456.81 L411.50 456.48 L412.00 456.15 L412.50 455.82 L413.00 455.49 L413.50 455.16 L414.00 454.83 L414.50 454.50 L415.00 454.18 L415.50 453.86 L416.00 453.53 L416.50 453.21 L417.00 452.89 L417.50 452.57 L418.00 452.26 L418.50 451.94 L419.00 451.62 L419.50 451.31 L420.00 450.99 L420.50 450.68 L421.00 450.37 L421.50 450.06 L422.00 449.75 L422.50 449.44 L423.00 449.13 L423.50 448.82 L424.00 448.51 L424.50 448.21 L425.00 447.90 L425.50 447.59 L426.00 447.29 L426.50 446.98 L427.00 446.68 L427.50 446.38 L428.00 446.07 L428.50 445.77 L429.00 445.47 L429.50 445.17 L430.00 444.87 L430.50 444.57 L431.00 444.27 L431.50 443.97 L432.00 443.67 L432.50 443.37 L433.00 443.07 L433.50 442.77 L434.00 442.47 L434.50 442.17 L435.00 441.87 L435.50 441.57 L436.00 441.27 L436.50 440.98 L437.00 440.68 L437.50 440.38 L438.00 440.08 L438.50 439.78 L439.00 439.48 L439.50 439.18 L440.00 438.88 L440.50 438.58 L441.00 438.28 L441.50 437.99 L442.00 437.69 L442.50 437.38 L443.00 437.08 L443.50 436.78 L444.00 436.48 L444.50 436.18 L445.00 435.88 L445.50 435.57 L446.00 435.27 L446.50 434.97 L447.00 434.66 L447.50 434.36 L448.00 434.05 L448.50 433.75 L449.00 433.44 L449.50 433.13 L450.00 432.82 L450.50 432.51 L451.00 432.20 L451.50 431.89 L452.00 431.58 L452.50 431.27 L453.00 430.96 L453.50 430.64 L454.00 430.33 L454.50 430.01 L455.00 429.69 L455.50 429.38 L456.00 429.06 L456.50 428.74 L457.00 428.42 L457.50 428.09 L458.00 427.77 L458.50 427.45 L459.00 427.12 L459.50 426.79 L460.00 426.46 L460.50 426.13 L461.00 425.80 L461.50 425.47 L462.00 425.14 L462.50 424.80 L463.00 424.46 L463.50 424.13 L464.00 423.79 L464.50 423.45 L465.00 423.10 L465.50 422.76 L466.00 422.41 L466.50 422.07 L467.00 421.72 L467.50 421.37 L468.00 421.01 L468.50 420.66 L469.00 420.30 L469.50 419.94 L469.90 419.66" fill="none" stroke="#5b58a8" stroke-width="1.2"/>
<path d="M204.00 525.80 L204.50 525.80 L205.00 525.80 L205.50 525.80 L206.00 525.80 L206.50 525.80 L207.00 525.80 L207.50 525.80 L208.00 525.80 L208.50 525.80 L209.00 525.80 L209.50 525.80 L210.00 525.80 L210.50 525.80 L211.00 525.80 L211.50 525.80 L212.00 525.80 L212.50 525.80 L213.00 525.80 L213.50 525.80 L214.00 525.80 L214.50 525.80 L215.00 525.80 L215.50 525.80 L216.00 525.80 L216.50 525.80 L217.00 525.80 L217.50 525.80 L218.00 525.80 L218.50 525.80 L219.00 525.80 L219.50 525.80 L220.00 525.80 L220.50 525.80 L221.00 525.80 L221.50 525.80 L222.00 525.80 L222.50 525.80 L223.00 525.80 L223.50 525.80 L224.00 525.80 L224.50 525.80 L225.00 525.80 L225.50 525.80 L226.00 525.80 L226.50 525.80 L227.00 525.80 L227.50 525.80 L228.00 525.80 L228.50 525.80 L229.00 525.80 L229.50 525.80 L230.00 525.80 L230.50 525.80 L231.00 525.80 L231.50 525.80 L232.00 525.80 L232.50 525.80 L233.00 525.80 L233.50 525.80 L234.00 525.80 L234.50 525.80 L235.00 525.80 L235.50 525.80 L236.00 525.80 L236.50 525.80 L237.00 525.80 L237.50 525.80 L238.00 525.80 L238.50 525.80 L239.00 525.80 L239.50 525.80 L240.00 525.80 L240.50 525.80 L241.00 525.80 L241.50 525.80 L242.00 525.80 L242.50 525.80 L243.00 525.80 L243.50 525.80 L244.00 525.80 L244.50 525.80 L245.00 525.80 L245.50 525.80 L246.00 525.80 L246.50 525.80 L247.00 525.80 L247.50 525.80 L248.00 525.80 L248.50 525.80 L249.00 525.80 L249.50 525.80 L250.00 525.80 L250.50 525.80 L251.00 525.80 L251.50 525.80 L252.00 525.80 L252.50 525.80 L253.00 525.80 L253.50 525.80 L254.00 525.80 L254.50 525.80 L255.00 525.80 L255.50 525.80 L256.00 525.80 L256.50 525.80 L257.00 525.80 L257.50 525.80 L258.00 525.80 L258.50 525.80 L259.00 525.80 L259.50 525.80 L260.00 525.80 L260.50 525.80 L261.00 525.80 L261.50 525.80 L262.00 525.80 L262.50 525.80 L263.00 525.80 L263.50 525.80 L264.00 525.80 L264.50 525.80 L265.00 525.80 L265.50 525.80 L266.00 525.80 L266.50 525.80 L267.00 525.80 L267.50 525.80 L268.00 525.80 L268.50 525.80 L269.00 525.80 L269.50 525.80 L270.00 525.80 L270.50 525.80 L271.00 525.80 L271.50 525.80 L272.00 525.80 L272.50 525.80 L273.00 525.80 L273.50 525.80 L274.00 525.80 L274.50 525.80 L275.00 525.80 L275.50 525.80 L276.00 525.80 L276.50 525.80 L277.00 525.80 L277.50 525.80 L278.00 525.80 L278.50 525.80 L279.00 525.80 L279.50 525.80 L280.00 525.80 L280.50 525.80 L281.00 525.80 L281.50 525.80 L282.00 525.80 L282.50 525.80 L283.00 525.80 L283.50 525.80 L284.00 525.80 L284.50 525.80 L285.00 525.80 L285.50 525.80 L286.00 525.80 L286.50 525.80 L287.00 525.80 L287.50 525.80 L288.00 525.80 L288.50 525.80 L289.00 525.80 L289.50 525.80 L290.00 525.80 L290.50 525.80 L291.00 525.80 L291.50 525.80 L292.00 525.80 L292.50 525.80 L293.00 525.80 L293.50 525.78 L294.00 525.75 L294.50 525.73 L295.00 525.70 L295.50 525.66 L296.00 525.63 L296.50 525.60 L297.00 525.56 L297.50 525.52 L298.00 525.48 L298.50 525.44 L299.00 525.39 L299.50 525.34 L300.00 525.29 L300.50 525.24 L301.00 525.19 L301.50 525.13 L302.00 525.08 L302.50 525.02 L303.00 524.95 L303.50 524.89 L304.00 524.82 L304.50 524.75 L305.00 524.68 L305.50 524.60 L306.00 524.53 L306.50 524.45 L307.00 524.36 L307.50 524.28 L308.00 524.19 L308.50 524.10 L309.00 524.01 L309.50 523.91 L310.00 523.81 L310.50 523.71 L311.00 523.61 L311.50 523.50 L312.00 523.39 L312.50 523.28 L313.00 523.16 L313.50 523.04 L314.00 522.92 L314.50 522.79 L315.00 522.66 L315.50 522.53 L316.00 522.40 L316.50 522.26 L317.00 522.12 L317.50 521.97 L318.00 521.82 L318.50 521.67 L319.00 521.52 L319.50 521.36 L320.00 521.19 L320.50 521.03 L321.00 520.86 L321.50 520.69 L322.00 520.51 L322.50 520.33 L323.00 520.14 L323.50 519.96 L324.00 519.76 L324.50 519.57 L325.00 519.37 L325.50 519.17 L326.00 518.96 L326.50 518.75 L327.00 518.53 L327.50 518.31 L328.00 518.09 L328.50 517.86 L329.00 517.63 L329.50 517.39 L330.00 517.15 L330.50 516.91 L331.00 516.66 L331.50 516.40 L332.00 516.15 L332.50 515.89 L333.00 515.62 L333.50 515.35 L334.00 515.07 L334.50 514.79 L335.00 514.51 L335.50 514.22 L336.00 513.92 L336.50 513.63 L337.00 513.32 L337.50 513.01 L338.00 512.70 L338.50 512.38 L339.00 512.06 L339.50 511.73 L340.00 511.40 L340.50 511.07 L341.00 510.72 L341.50 510.38 L342.00 510.03 L342.50 509.68 L343.00 509.32 L343.50 508.96 L344.00 508.60 L344.50 508.23 L345.00 507.86 L345.50 507.49 L346.00 507.12 L346.50 506.74 L347.00 506.36 L347.50 505.98 L348.00 505.59 L348.50 505.20 L349.00 504.82 L349.50 504.42 L350.00 504.03 L350.50 503.64 L351.00 503.24 L351.50 502.85 L352.00 502.45 L352.50 502.05 L353.00 501.65 L353.50 501.25 L354.00 500.85 L354.50 500.45 L355.00 500.05 L355.50 499.65 L356.00 499.25 L356.50 498.85 L357.00 498.45 L357.50 498.05 L358.00 497.65 L358.50 497.25 L359.00 496.86 L359.50 496.46 L360.00 496.06 L360.50 495.67 L361.00 495.28 L361.50 494.89 L362.00 494.50 L362.50 494.11 L363.00 493.73 L363.50 493.35 L364.00 492.97 L364.50 492.59 L365.00 492.21 L365.50 491.84 L366.00 491.47 L366.50 491.10 L367.00 490.73 L367.50 490.36 L368.00 490.00 L368.50 489.64 L369.00 489.28 L369.50 488.92 L370.00 488.56 L370.50 488.21 L371.00 487.86 L371.50 487.51 L372.00 487.17 L372.50 486.82 L373.00 486.48 L373.50 486.14 L374.00 485.80 L374.50 485.47 L375.00 485.14 L375.50 484.81 L376.00 484.48 L376.50 484.16 L377.00 483.83 L377.50 483.51 L378.00 483.20 L378.50 482.88 L379.00 482.57 L379.50 482.26 L380.00 481.95 L380.50 481.65 L381.00 481.35 L381.50 481.05 L382.00 480.75 L382.50 480.46 L383.00 480.17 L383.50 479.88 L384.00 479.60 L384.50 479.31 L385.00 479.03 L385.50 478.76 L386.00 478.48 L386.50 478.21 L387.00 477.94 L387.50 477.68 L388.00 477.41 L388.50 477.15 L389.00 476.89 L389.50 476.64 L390.00 476.38 L390.50 476.13 L391.00 475.88 L391.50 475.63 L392.00 475.39 L392.50 475.14 L393.00 474.90 L393.50 474.66 L394.00 474.42 L394.50 474.19 L395.00 473.95 L395.50 473.72 L396.00 473.48 L396.50 473.25 L397.00 473.02 L397.50 472.80 L398.00 472.57 L398.50 472.34 L399.00 472.12 L399.50 471.89 L400.00 471.67 L400.50 471.45 L401.00 471.23 L401.50 471.00 L402.00 470.78 L402.50 470.56 L403.00 470.35 L403.50 470.13 L404.00 469.91 L404.50 469.69 L405.00 469.47 L405.50 469.26 L406.00 469.04 L406.50 468.82 L407.00 468.60 L407.50 468.39 L408.00 468.17 L408.50 467.95 L409.00 467.73 L409.50 467.51 L410.00 467.30 L410.50 467.08 L411.00 466.86 L411.50 466.64 L412.00 466.42 L412.50 466.19 L413.00 465.97 L413.50 465.75 L414.00 465.52 L414.50 465.30 L415.00 465.07 L415.50 464.84 L416.00 464.62 L416.50 464.39 L417.00 464.15 L417.50 463.92 L418.00 463.69 L418.50 463.45 L419.00 463.22 L419.50 462.98 L420.00 462.74 L420.50 462.50 L421.00 462.26 L421.50 462.01 L422.00 461.77 L422.50 461.52 L423.00 461.28 L423.50 461.03 L424.00 460.78 L424.50 460.53 L425.00 460.28 L425.50 460.02 L426.00 459.77 L426.50 459.51 L427.00 459.26 L427.50 459.00 L428.00 458.74 L428.50 458.48 L429.00 458.22 L429.50 457.95 L430.00 457.69 L430.50 457.42 L431.00 457.16 L431.50 456.89 L432.00 456.62 L432.50 456.35 L433.00 456.08 L433.50 455.81 L434.00 455.54 L434.50 455.26 L435.00 454.99 L435.50 454.71 L436.00 454.44 L436.50 454.16 L437.00 453.88 L437.50 453.60 L438.00 453.32 L438.50 453.04 L439.00 452.75 L439.50 452.47 L440.00 452.18 L440.50 451.90 L441.00 451.61 L441.50 451.32 L442.00 451.04 L442.50 450.75 L443.00 450.45 L443.50 450.16 L444.00 449.87 L444.50 449.58 L445.00 449.28 L445.50 448.99 L446.00 448.69 L446.50 448.40 L447.00 448.10 L447.50 447.80 L448.00 447.50 L448.50 447.20 L449.00 446.90 L449.50 446.60 L450.00 446.29 L450.50 445.99 L451.00 445.69 L451.50 445.38 L452.00 445.07 L452.50 444.77 L453.00 444.46 L453.50 444.15 L454.00 443.84 L454.50 443.53 L455.00 443.22 L455.50 442.91 L456.00 442.60 L456.50 442.29 L457.00 441.98 L457.50 441.66 L458.00 441.35 L458.50 441.03 L459.00 440.72 L459.50 440.40 L460.00 440.08 L460.50 439.77 L461.00 439.45 L461.50 439.13 L462.00 438.81 L462.50 438.49 L463.00 438.17 L463.50 437.85 L464.00 437.53 L464.50 437.20 L465.00 436.88 L465.50 436.56 L466.00 436.23 L466.50 435.91 L467.00 435.58 L467.50 435.26 L468.00 434.93 L468.50 434.61 L469.00 434.28 L469.50 433.95 L469.90 433.69" fill="none" stroke="#2fb45a" stroke-width="1.2"/>
<path d="M204.00 525.80 L204.50 525.80 L205.00 525.80 L205.50 525.80 L206.00 525.80 L206.50 525.80 L207.00 525.80 L207.50 525.80 L208.00 525.80 L208.50 525.80 L209.00 525.80 L209.50 525.80 L210.00 525.80 L210.50 525.80 L211.00 525.80 L211.50 525.80 L212.00 525.80 L212.50 525.80 L213.00 525.80 L213.50 525.80 L214.00 525.80 L214.50 525.80 L215.00 525.80 L215.50 525.80 L216.00 525.80 L216.50 525.80 L217.00 525.80 L217.50 525.80 L218.00 525.80 L218.50 525.80 L219.00 525.80 L219.50 525.80 L220.00 525.80 L220.50 525.80 L221.00 525.80 L221.50 525.80 L222.00 525.80 L222.50 525.80 L223.00 525.80 L223.50 525.80 L224.00 525.80 L224.50 525.80 L225.00 525.80 L225.50 525.80 L226.00 525.80 L226.50 525.80 L227.00 525.80 L227.50 525.80 L228.00 525.80 L228.50 525.80 L229.00 525.80 L229.50 525.80 L230.00 525.80 L230.50 525.80 L231.00 525.80 L231.50 525.80 L232.00 525.80 L232.50 525.80 L233.00 525.80 L233.50 525.80 L234.00 525.80 L234.50 525.80 L235.00 525.80 L235.50 525.80 L236.00 525.80 L236.50 525.80 L237.00 525.80 L237.50 525.80 L238.00 525.80 L238.50 525.80 L239.00 525.80 L239.50 525.80 L240.00 525.80 L240.50 525.80 L241.00 525.80 L241.50 525.80 L242.00 525.80 L242.50 525.80 L243.00 525.80 L243.50 525.80 L244.00 525.80 L244.50 525.80 L245.00 525.80 L245.50 525.80 L246.00 525.80 L246.50 525.80 L247.00 525.80 L247.50 525.80 L248.00 525.80 L248.50 525.80 L249.00 525.80 L249.50 525.80 L250.00 525.80 L250.50 525.80 L251.00 525.80 L251.50 525.80 L252.00 525.80 L252.50 525.80 L253.00 525.80 L253.50 525.80 L254.00 525.80 L254.50 525.80 L255.00 525.80 L255.50 525.80 L256.00 525.80 L256.50 525.80 L257.00 525.80 L257.50 525.80 L258.00 525.80 L258.50 525.80 L259.00 525.80 L259.50 525.80 L260.00 525.80 L260.50 525.80 L261.00 525.80 L261.50 525.80 L262.00 525.80 L262.50 525.80 L263.00 525.80 L263.50 525.80 L264.00 525.80 L264.50 525.80 L265.00 525.80 L265.50 525.80 L266.00 525.80 L266.50 525.80 L267.00 525.80 L267.50 525.80 L268.00 525.80 L268.50 525.80 L269.00 525.80 L269.50 525.80 L270.00 525.80 L270.50 525.80 L271.00 525.80 L271.50 525.80 L272.00 525.80 L272.50 525.80 L273.00 525.80 L273.50 525.80 L274.00 525.80 L274.50 525.80 L275.00 525.80 L275.50 525.80 L276.00 525.80 L276.50 525.80 L277.00 525.80 L277.50 525.80 L278.00 525.80 L278.50 525.80 L279.00 525.80 L279.50 525.80 L280.00 525.80 L280.50 525.80 L281.00 525.80 L281.50 525.80 L282.00 525.80 L282.50 525.80 L283.00 525.80 L283.50 525.80 L284.00 525.80 L284.50 525.80 L285.00 525.80 L285.50 525.80 L286.00 525.80 L286.50 525.80 L287.00 525.80 L287.50 525.80 L288.00 525.80 L288.50 525.80 L289.00 525.80 L289.50 525.80 L290.00 525.80 L290.50 525.80 L291.00 525.80 L291.50 525.80 L292.00 525.80 L292.50 525.80 L293.00 525.80 L293.50 525.80 L294.00 525.80 L294.50 525.80 L295.00 525.80 L295.50 525.78 L296.00 525.76 L296.50 525.74 L297.00 525.72 L297.50 525.69 L298.00 525.66 L298.50 525.63 L299.00 525.59 L299.50 525.56 L300.00 525.52 L300.50 525.47 L301.00 525.43 L301.50 525.38 L302.00 525.33 L302.50 525.27 L303.00 525.21 L303.50 525.15 L304.00 525.08 L304.50 525.02 L305.00 524.94 L305.50 524.87 L306.00 524.79 L306.50 524.70 L307.00 524.61 L307.50 524.52 L308.00 524.43 L308.50 524.32 L309.00 524.22 L309.50 524.11 L310.00 524.00 L310.50 523.88 L311.00 523.76 L311.50 523.63 L312.00 523.50 L312.50 523.36 L313.00 523.22 L313.50 523.08 L314.00 522.93 L314.50 522.77 L315.00 522.61 L315.50 522.44 L316.00 522.27 L316.50 522.09 L317.00 521.91 L317.50 521.72 L318.00 521.53 L318.50 521.33 L319.00 521.12 L319.50 520.91 L320.00 520.70 L320.50 520.47 L321.00 520.24 L321.50 520.01 L322.00 519.77 L322.50 519.52 L323.00 519.27 L323.50 519.00 L324.00 518.74 L324.50 518.46 L325.00 518.18 L325.50 517.90 L326.00 517.60 L326.50 517.30 L327.00 516.99 L327.50 516.68 L328.00 516.36 L328.50 516.03 L329.00 515.69 L329.50 515.35 L330.00 515.00 L330.50 514.64 L331.00 514.28 L331.50 513.91 L332.00 513.53 L332.50 513.14 L333.00 512.75 L333.50 512.35 L334.00 511.95 L334.50 511.53 L335.00 511.11 L335.50 510.68 L336.00 510.25 L336.50 509.81 L337.00 509.36 L337.50 508.90 L338.00 508.44 L338.50 507.96 L339.00 507.49 L339.50 507.00 L340.00 506.51 L340.50 506.01 L341.00 505.50 L341.50 504.99 L342.00 504.47 L342.50 503.94 L343.00 503.40 L343.50 502.86 L344.00 502.31 L344.50 501.75 L345.00 501.19 L345.50 500.62 L346.00 500.04 L346.50 499.45 L347.00 498.86 L347.50 498.26 L348.00 497.65 L348.50 497.03 L349.00 496.41 L349.50 495.78 L350.00 495.15 L350.50 494.51 L351.00 493.86 L351.50 493.21 L352.00 492.55 L352.50 491.89 L353.00 491.22 L353.50 490.55 L354.00 489.88 L354.50 489.20 L355.00 488.52 L355.50 487.83 L356.00 487.14 L356.50 486.45 L357.00 485.76 L357.50 485.06 L358.00 484.36 L358.50 483.66 L359.00 482.96 L359.50 482.26 L360.00 481.55 L360.50 480.85 L361.00 480.14 L361.50 479.44 L362.00 478.73 L362.50 478.02 L363.00 477.31 L363.50 476.60 L364.00 475.90 L364.50 475.19 L365.00 474.48 L365.50 473.77 L366.00 473.07 L366.50 472.36 L367.00 471.66 L367.50 470.96 L368.00 470.26 L368.50 469.56 L369.00 468.86 L369.50 468.17 L370.00 467.48 L370.50 466.79 L371.00 466.10 L371.50 465.42 L372.00 464.74 L372.50 464.06 L373.00 463.39 L373.50 462.72 L374.00 462.05 L374.50 461.39 L375.00 460.73 L375.50 460.08 L376.00 459.43 L376.50 458.79 L377.00 458.15 L377.50 457.51 L378.00 456.88 L378.50 456.25 L379.00 455.63 L379.50 455.02 L380.00 454.41 L380.50 453.81 L381.00 453.21 L381.50 452.63 L382.00 452.04 L382.50 451.47 L383.00 450.90 L383.50 450.34 L384.00 449.79 L384.50 449.24 L385.00 448.71 L385.50 448.18 L386.00 447.66 L386.50 447.15 L387.00 446.65 L387.50 446.16 L388.00 445.67 L388.50 445.20 L389.00 444.74 L389.50 444.29 L390.00 443.85 L390.50 443.42 L391.00 443.00 L391.50 442.59 L392.00 442.20 L392.50 441.81 L393.00 441.44 L393.50 441.08 L394.00 440.74 L394.50 440.40 L395.00 440.08 L395.50 439.77 L396.00 439.47 L396.50 439.18 L397.00 438.91 L397.50 438.65 L398.00 438.39 L398.50 438.15 L399.00 437.92 L399.50 437.70 L400.00 437.50 L400.50 437.30 L401.00 437.11 L401.50 436.94 L402.00 436.77 L402.50 436.62 L403.00 436.47 L403.50 436.34 L404.00 436.22 L404.50 436.10 L405.00 436.00 L405.50 435.90 L406.00 435.82 L406.50 435.74 L407.00 435.67 L407.50 435.61 L408.00 435.56 L408.50 435.52 L409.00 435.49 L409.50 435.47 L410.00 435.46 L410.50 435.45 L411.00 435.45 L411.50 435.46 L412.00 435.48 L412.50 435.50 L413.00 435.53 L413.50 435.57 L414.00 435.62 L414.50 435.67 L415.00 435.73 L415.50 435.80 L416.00 435.87 L416.50 435.95 L417.00 436.03 L417.50 436.12 L418.00 436.22 L418.50 436.32 L419.00 436.43 L419.50 436.54 L420.00 436.66 L420.50 436.78 L421.00 436.90 L421.50 437.04 L422.00 437.17 L422.50 437.31 L423.00 437.45 L423.50 437.60 L424.00 437.75 L424.50 437.90 L425.00 438.06 L425.50 438.22 L426.00 438.38 L426.50 438.55 L427.00 438.72 L427.50 438.89 L428.00 439.06 L428.50 439.24 L429.00 439.41 L429.50 439.59 L430.00 439.77 L430.50 439.96 L431.00 440.14 L431.50 440.32 L432.00 440.51 L432.50 440.69 L433.00 440.88 L433.50 441.07 L434.00 441.25 L434.50 441.44 L435.00 441.63 L435.50 441.81 L436.00 442.00 L436.50 442.18 L437.00 442.37 L437.50 442.55 L438.00 442.74 L438.50 442.92 L439.00 443.10 L439.50 443.27 L440.00 443.45 L440.50 443.62 L441.00 443.80 L441.50 443.97 L442.00 444.13 L442.50 444.30 L443.00 444.46 L443.50 444.62 L444.00 444.78 L444.50 444.93 L445.00 445.08 L445.50 445.23 L446.00 445.38 L446.50 445.52 L447.00 445.66 L447.50 445.80 L448.00 445.93 L448.50 446.06 L449.00 446.19 L449.50 446.31 L450.00 446.43 L450.50 446.54 L451.00 446.65 L451.50 446.76 L452.00 446.87 L452.50 446.96 L453.00 447.06 L453.50 447.15 L454.00 447.24 L454.50 447.32 L455.00 447.40 L455.50 447.47 L456.00 447.54 L456.50 447.60 L457.00 447.66 L457.50 447.71 L458.00 447.76 L458.50 447.81 L459.00 447.85 L459.50 447.88 L460.00 447.91 L460.50 447.93 L461.00 447.95 L461.50 447.96 L462.00 447.96 L462.50 447.96 L463.00 447.96 L463.50 447.94 L464.00 447.93 L464.50 447.90 L465.00 447.87 L465.50 447.84 L466.00 447.79 L466.50 447.74 L467.00 447.69 L467.50 447.63 L468.00 447.56 L468.50 447.48 L469.00 447.40 L469.50 447.31 L469.90 447.23" fill="none" stroke="#e42828" stroke-width="1.2"/>
<path d="M204.00 525.80 L204.50 525.80 L205.00 525.80 L205.50 525.80 L206.00 525.80 L206.50 525.80 L207.00 525.80 L207.50 525.80 L208.00 525.80 L208.50 525.80 L209.00 525.80 L209.50 525.80 L210.00 525.80 L210.50 525.80 L211.00 525.80 L211.50 525.80 L212.00 525.80 L212.50 525.80 L213.00 525.80 L213.50 525.80 L214.00 525.80 L214.50 525.80 L215.00 525.80 L215.50 525.80 L216.00 525.80 L216.50 525.80 L217.00 525.80 L217.50 525.80 L218.00 525.80 L218.50 525.80 L219.00 525.80 L219.50 525.80 L220.00 525.80 L220.50 525.80 L221.00 525.80 L221.50 525.80 L222.00 525.80 L222.50 525.80 L223.00 525.80 L223.50 525.80 L224.00 525.80 L224.50 525.80 L225.00 525.80 L225.50 525.80 L226.00 525.80 L226.50 525.80 L227.00 525.80 L227.50 525.80 L228.00 525.80 L228.50 525.80 L229.00 525.80 L229.50 525.80 L230.00 525.80 L230.50 525.80 L231.00 525.80 L231.50 525.80 L232.00 525.80 L232.50 525.80 L233.00 525.80 L233.50 525.80 L234.00 525.80 L234.50 525.80 L235.00 525.80 L235.50 525.80 L236.00 525.80 L236.50 525.80 L237.00 525.80 L237.50 525.80 L238.00 525.80 L238.50 525.80 L239.00 525.80 L239.50 525.80 L240.00 525.80 L240.50 525.80 L241.00 525.80 L241.50 525.80 L242.00 525.80 L242.50 525.80 L243.00 525.80 L243.50 525.80 L244.00 525.80 L244.50 525.80 L245.00 525.80 L245.50 525.80 L246.00 525.80 L246.50 525.80 L247.00 525.80 L247.50 525.80 L248.00 525.80 L248.50 525.80 L249.00 525.80 L249.50 525.80 L250.00 525.80 L250.50 525.80 L251.00 525.80 L251.50 525.80 L252.00 525.80 L252.50 525.80 L253.00 525.80 L253.50 525.80 L254.00 525.80 L254.50 525.80 L255.00 525.80 L255.50 525.80 L256.00 525.80 L256.50 525.80 L257.00 525.80 L257.50 525.80 L258.00 525.80 L258.50 525.80 L259.00 525.80 L259.50 525.80 L260.00 525.80 L260.50 525.80 L261.00 525.80 L261.50 525.80 L262.00 525.80 L262.50 525.80 L263.00 525.80 L263.50 525.80 L264.00 525.80 L264.50 525.80 L265.00 525.80 L265.50 525.80 L266.00 525.80 L266.50 525.80 L267.00 525.80 L267.50 525.80 L268.00 525.80 L268.50 525.80 L269.00 525.80 L269.50 525.80 L270.00 525.80 L270.50 525.80 L271.00 525.80 L271.50 525.80 L272.00 525.80 L272.50 525.80 L273.00 525.80 L273.50 525.80 L274.00 525.80 L274.50 525.80 L275.00 525.80 L275.50 525.80 L276.00 525.80 L276.50 525.80 L277.00 525.80 L277.50 525.80 L278.00 525.80 L278.50 525.80 L279.00 525.80 L279.50 525.80 L280.00 525.80 L280.50 525.80 L281.00 525.80 L281.50 525.80 L282.00 525.80 L282.50 525.80 L283.00 525.80 L283.50 525.80 L284.00 525.80 L284.50 525.80 L285.00 525.80 L285.50 525.80 L286.00 525.80 L286.50 525.80 L287.00 525.80 L287.50 525.80 L288.00 525.80 L288.50 525.80 L289.00 525.80 L289.50 525.80 L290.00 525.80 L290.50 525.80 L291.00 525.80 L291.50 525.80 L292.00 525.80 L292.50 525.80 L293.00 525.80 L293.50 525.80 L294.00 525.80 L294.50 525.80 L295.00 525.80 L295.50 525.80 L296.00 525.80 L296.50 525.80 L297.00 525.80 L297.50 525.80 L298.00 525.80 L298.50 525.80 L299.00 525.80 L299.50 525.80 L300.00 525.80 L300.50 525.80 L301.00 525.80 L301.50 525.80 L302.00 525.77 L302.50 525.73 L303.00 525.70 L303.50 525.66 L304.00 525.61 L304.50 525.57 L305.00 525.52 L305.50 525.48 L306.00 525.42 L306.50 525.37 L307.00 525.32 L307.50 525.26 L308.00 525.20 L308.50 525.13 L309.00 525.07 L309.50 525.00 L310.00 524.93 L310.50 524.85 L311.00 524.78 L311.50 524.70 L312.00 524.62 L312.50 524.53 L313.00 524.44 L313.50 524.35 L314.00 524.26 L314.50 524.16 L315.00 524.06 L315.50 523.96 L316.00 523.85 L316.50 523.74 L317.00 523.63 L317.50 523.51 L318.00 523.39 L318.50 523.27 L319.00 523.14 L319.50 523.01 L320.00 522.88 L320.50 522.74 L321.00 522.60 L321.50 522.46 L322.00 522.31 L322.50 522.16 L323.00 522.01 L323.50 521.85 L324.00 521.69 L324.50 521.52 L325.00 521.35 L325.50 521.18 L326.00 521.00 L326.50 520.82 L327.00 520.63 L327.50 520.44 L328.00 520.24 L328.50 520.05 L329.00 519.84 L329.50 519.64 L330.00 519.43 L330.50 519.22 L331.00 519.00 L331.50 518.78 L332.00 518.56 L332.50 518.33 L333.00 518.10 L333.50 517.86 L334.00 517.62 L334.50 517.38 L335.00 517.14 L335.50 516.89 L336.00 516.64 L336.50 516.39 L337.00 516.13 L337.50 515.87 L338.00 515.61 L338.50 515.34 L339.00 515.08 L339.50 514.81 L340.00 514.53 L340.50 514.26 L341.00 513.98 L341.50 513.70 L342.00 513.41 L342.50 513.13 L343.00 512.84 L343.50 512.55 L344.00 512.25 L344.50 511.96 L345.00 511.66 L345.50 511.36 L346.00 511.06 L346.50 510.75 L347.00 510.45 L347.50 510.14 L348.00 509.83 L348.50 509.52 L349.00 509.21 L349.50 508.89 L350.00 508.58 L350.50 508.26 L351.00 507.94 L351.50 507.62 L352.00 507.30 L352.50 506.97 L353.00 506.65 L353.50 506.33 L354.00 506.00 L354.50 505.68 L355.00 505.35 L355.50 505.03 L356.00 504.70 L356.50 504.38 L357.00 504.05 L357.50 503.73 L358.00 503.40 L358.50 503.08 L359.00 502.76 L359.50 502.44 L360.00 502.12 L360.50 501.81 L361.00 501.49 L361.50 501.18 L362.00 500.86 L362.50 500.55 L363.00 500.25 L363.50 499.94 L364.00 499.64 L364.50 499.34 L365.00 499.04 L365.50 498.75 L366.00 498.46 L366.50 498.17 L367.00 497.89 L367.50 497.61 L368.00 497.33 L368.50 497.06 L369.00 496.80 L369.50 496.53 L370.00 496.27 L370.50 496.02 L371.00 495.77 L371.50 495.52 L372.00 495.28 L372.50 495.05 L373.00 494.82 L373.50 494.60 L374.00 494.38 L374.50 494.17 L375.00 493.96 L375.50 493.76 L376.00 493.56 L376.50 493.37 L377.00 493.19 L377.50 493.01 L378.00 492.83 L378.50 492.66 L379.00 492.50 L379.50 492.33 L380.00 492.18 L380.50 492.03 L381.00 491.88 L381.50 491.74 L382.00 491.60 L382.50 491.47 L383.00 491.34 L383.50 491.22 L384.00 491.10 L384.50 490.99 L385.00 490.88 L385.50 490.77 L386.00 490.67 L386.50 490.57 L387.00 490.47 L387.50 490.38 L388.00 490.29 L388.50 490.21 L389.00 490.13 L389.50 490.06 L390.00 489.98 L390.50 489.91 L391.00 489.85 L391.50 489.78 L392.00 489.72 L392.50 489.67 L393.00 489.62 L393.50 489.57 L394.00 489.52 L394.50 489.47 L395.00 489.43 L395.50 489.39 L396.00 489.36 L396.50 489.32 L397.00 489.29 L397.50 489.26 L398.00 489.24 L398.50 489.21 L399.00 489.19 L399.50 489.17 L400.00 489.16 L400.50 489.14 L401.00 489.13 L401.50 489.12 L402.00 489.11 L402.50 489.10 L403.00 489.10 L403.50 489.09 L404.00 489.09 L404.50 489.09 L405.00 489.09 L405.50 489.09 L406.00 489.10 L406.50 489.10 L407.00 489.11 L407.50 489.12 L408.00 489.12 L408.50 489.13 L409.00 489.14 L409.50 489.16 L410.00 489.17 L410.50 489.18 L411.00 489.19 L411.50 489.21 L412.00 489.23 L412.50 489.24 L413.00 489.26 L413.50 489.28 L414.00 489.29 L414.50 489.31 L415.00 489.33 L415.50 489.35 L416.00 489.37 L416.50 489.40 L417.00 489.42 L417.50 489.44 L418.00 489.46 L418.50 489.49 L419.00 489.51 L419.50 489.53 L420.00 489.56 L420.50 489.58 L421.00 489.61 L421.50 489.63 L422.00 489.66 L422.50 489.68 L423.00 489.71 L423.50 489.74 L424.00 489.76 L424.50 489.79 L425.00 489.82 L425.50 489.84 L426.00 489.87 L426.50 489.89 L427.00 489.92 L427.50 489.95 L428.00 489.97 L428.50 490.00 L429.00 490.02 L429.50 490.05 L430.00 490.07 L430.50 490.10 L431.00 490.12 L431.50 490.15 L432.00 490.17 L432.50 490.20 L433.00 490.22 L433.50 490.24 L434.00 490.27 L434.50 490.29 L435.00 490.31 L435.50 490.33 L436.00 490.35 L436.50 490.37 L437.00 490.39 L437.50 490.41 L438.00 490.43 L438.50 490.45 L439.00 490.46 L439.50 490.48 L440.00 490.49 L440.50 490.51 L441.00 490.52 L441.50 490.53 L442.00 490.55 L442.50 490.56 L443.00 490.57 L443.50 490.58 L444.00 490.58 L444.50 490.59 L445.00 490.60 L445.50 490.60 L446.00 490.60 L446.50 490.61 L447.00 490.61 L447.50 490.61 L448.00 490.61 L448.50 490.60 L449.00 490.60 L449.50 490.60 L450.00 490.59 L450.50 490.58 L451.00 490.57 L451.50 490.56 L452.00 490.55 L452.50 490.54 L453.00 490.52 L453.50 490.51 L454.00 490.49 L454.50 490.47 L455.00 490.45 L455.50 490.43 L456.00 490.40 L456.50 490.37 L457.00 490.35 L457.50 490.32 L458.00 490.29 L458.50 490.25 L459.00 490.22 L459.50 490.18 L460.00 490.14 L460.50 490.10 L461.00 490.06 L461.50 490.01 L462.00 489.97 L462.50 489.92 L463.00 489.87 L463.50 489.81 L464.00 489.76 L464.50 489.70 L465.00 489.64 L465.50 489.58 L466.00 489.52 L466.50 489.45 L467.00 489.38 L467.50 489.31 L468.00 489.24 L468.50 489.16 L469.00 489.09 L469.50 489.01 L469.90 488.94" fill="none" stroke="#f06868" stroke-width="1.2"/>
<path d="M204.00 525.80 L204.50 525.80 L205.00 525.80 L205.50 525.80 L206.00 525.80 L206.50 525.80 L207.00 525.80 L207.50 525.80 L208.00 525.80 L208.50 525.80 L209.00 525.80 L209.50 525.80 L210.00 525.80 L210.50 525.80 L211.00 525.80 L211.50 525.80 L212.00 525.80 L212.50 525.80 L213.00 525.80 L213.50 525.80 L214.00 525.80 L214.50 525.80 L215.00 525.80 L215.50 525.80 L216.00 525.80 L216.50 525.80 L217.00 525.80 L217.50 525.80 L218.00 525.80 L218.50 525.80 L219.00 525.80 L219.50 525.80 L220.00 525.80 L220.50 525.80 L221.00 525.80 L221.50 525.80 L222.00 525.80 L222.50 525.80 L223.00 525.80 L223.50 525.80 L224.00 525.80 L224.50 525.80 L225.00 525.80 L225.50 525.80 L226.00 525.80 L226.50 525.80 L227.00 525.80 L227.50 525.80 L228.00 525.80 L228.50 525.80 L229.00 525.80 L229.50 525.80 L230.00 525.80 L230.50 525.80 L231.00 525.80 L231.50 525.80 L232.00 525.80 L232.50 525.80 L233.00 525.80 L233.50 525.80 L234.00 525.80 L234.50 525.80 L235.00 525.80 L235.50 525.80 L236.00 525.80 L236.50 525.80 L237.00 525.80 L237.50 525.80 L238.00 525.80 L238.50 525.80 L239.00 525.80 L239.50 525.80 L240.00 525.80 L240.50 525.80 L241.00 525.80 L241.50 525.80 L242.00 525.80 L242.50 525.80 L243.00 525.80 L243.50 525.80 L244.00 525.80 L244.50 525.80 L245.00 525.80 L245.50 525.80 L246.00 525.80 L246.50 525.80 L247.00 525.80 L247.50 525.80 L248.00 525.80 L248.50 525.80 L249.00 525.80 L249.50 525.80 L250.00 525.80 L250.50 525.80 L251.00 525.80 L251.50 525.80 L252.00 525.80 L252.50 525.80 L253.00 525.80 L253.50 525.80 L254.00 525.80 L254.50 525.80 L255.00 525.80 L255.50 525.80 L256.00 525.80 L256.50 525.80 L257.00 525.80 L257.50 525.80 L258.00 525.80 L258.50 525.80 L259.00 525.80 L259.50 525.80 L260.00 525.80 L260.50 525.80 L261.00 525.80 L261.50 525.80 L262.00 525.80 L262.50 525.80 L263.00 525.80 L263.50 525.80 L264.00 525.80 L264.50 525.80 L265.00 525.80 L265.50 525.80 L266.00 525.80 L266.50 525.80 L267.00 525.80 L267.50 525.80 L268.00 525.80 L268.50 525.80 L269.00 525.80 L269.50 525.80 L270.00 525.80 L270.50 525.80 L271.00 525.80 L271.50 525.80 L272.00 525.80 L272.50 525.80 L273.00 525.80 L273.50 525.80 L274.00 525.80 L274.50 525.80 L275.00 525.80 L275.50 525.80 L276.00 525.80 L276.50 525.80 L277.00 525.80 L277.50 525.80 L278.00 525.80 L278.50 525.80 L279.00 525.80 L279.50 525.80 L280.00 525.80 L280.50 525.80 L281.00 525.80 L281.50 525.80 L282.00 525.80 L282.50 525.80 L283.00 525.80 L283.50 525.80 L284.00 525.80 L284.50 525.80 L285.00 525.80 L285.50 525.80 L286.00 525.80 L286.50 525.80 L287.00 525.80 L287.50 525.80 L288.00 525.80 L288.50 525.80 L289.00 525.80 L289.50 525.80 L290.00 525.80 L290.50 525.80 L291.00 525.80 L291.50 525.80 L292.00 525.80 L292.50 525.80 L293.00 525.80 L293.50 525.80 L294.00 525.80 L294.50 525.80 L295.00 525.79 L295.50 525.77 L296.00 525.75 L296.50 525.72 L297.00 525.70 L297.50 525.67 L298.00 525.64 L298.50 525.61 L299.00 525.58 L299.50 525.54 L300.00 525.51 L300.50 525.47 L301.00 525.43 L301.50 525.39 L302.00 525.35 L302.50 525.31 L303.00 525.26 L303.50 525.21 L304.00 525.16 L304.50 525.11 L305.00 525.06 L305.50 525.00 L306.00 524.94 L306.50 524.88 L307.00 524.82 L307.50 524.76 L308.00 524.69 L308.50 524.62 L309.00 524.55 L309.50 524.48 L310.00 524.40 L310.50 524.32 L311.00 524.24 L311.50 524.16 L312.00 524.08 L312.50 523.99 L313.00 523.90 L313.50 523.81 L314.00 523.71 L314.50 523.62 L315.00 523.52 L315.50 523.41 L316.00 523.31 L316.50 523.20 L317.00 523.09 L317.50 522.98 L318.00 522.86 L318.50 522.74 L319.00 522.62 L319.50 522.49 L320.00 522.37 L320.50 522.24 L321.00 522.10 L321.50 521.97 L322.00 521.83 L322.50 521.69 L323.00 521.55 L323.50 521.40 L324.00 521.26 L324.50 521.11 L325.00 520.96 L325.50 520.80 L326.00 520.65 L326.50 520.49 L327.00 520.33 L327.50 520.17 L328.00 520.01 L328.50 519.85 L329.00 519.68 L329.50 519.51 L330.00 519.35 L330.50 519.18 L331.00 519.01 L331.50 518.83 L332.00 518.66 L332.50 518.48 L333.00 518.31 L333.50 518.13 L334.00 517.95 L334.50 517.78 L335.00 517.60 L335.50 517.42 L336.00 517.23 L336.50 517.05 L337.00 516.87 L337.50 516.69 L338.00 516.50 L338.50 516.32 L339.00 516.14 L339.50 515.95 L340.00 515.77 L340.50 515.58 L341.00 515.40 L341.50 515.21 L342.00 515.03 L342.50 514.84 L343.00 514.66 L343.50 514.48 L344.00 514.29 L344.50 514.11 L345.00 513.92 L345.50 513.74 L346.00 513.56 L346.50 513.38 L347.00 513.20 L347.50 513.02 L348.00 512.84 L348.50 512.66 L349.00 512.48 L349.50 512.30 L350.00 512.13 L350.50 511.95 L351.00 511.78 L351.50 511.61 L352.00 511.44 L352.50 511.27 L353.00 511.10 L353.50 510.93 L354.00 510.76 L354.50 510.60 L355.00 510.44 L355.50 510.28 L356.00 510.12 L356.50 509.96 L357.00 509.81 L357.50 509.65 L358.00 509.50 L358.50 509.35 L359.00 509.21 L359.50 509.06 L360.00 508.92 L360.50 508.78 L361.00 508.64 L361.50 508.51 L362.00 508.37 L362.50 508.24 L363.00 508.12 L363.50 507.99 L364.00 507.87 L364.50 507.75 L365.00 507.63 L365.50 507.51 L366.00 507.40 L366.50 507.29 L367.00 507.18 L367.50 507.08 L368.00 506.98 L368.50 506.88 L369.00 506.78 L369.50 506.69 L370.00 506.59 L370.50 506.50 L371.00 506.42 L371.50 506.33 L372.00 506.25 L372.50 506.17 L373.00 506.09 L373.50 506.02 L374.00 505.95 L374.50 505.88 L375.00 505.81 L375.50 505.75 L376.00 505.69 L376.50 505.63 L377.00 505.57 L377.50 505.52 L378.00 505.47 L378.50 505.42 L379.00 505.37 L379.50 505.33 L380.00 505.29 L380.50 505.25 L381.00 505.22 L381.50 505.18 L382.00 505.15 L382.50 505.13 L383.00 505.10 L383.50 505.08 L384.00 505.06 L384.50 505.04 L385.00 505.03 L385.50 505.01 L386.00 505.00 L386.50 505.00 L387.00 504.99 L387.50 504.99 L388.00 504.99 L388.50 505.00 L389.00 505.00 L389.50 505.01 L390.00 505.02 L390.50 505.04 L391.00 505.05 L391.50 505.07 L392.00 505.09 L392.50 505.12 L393.00 505.14 L393.50 505.17 L394.00 505.20 L394.50 505.24 L395.00 505.27 L395.50 505.31 L396.00 505.35 L396.50 505.39 L397.00 505.44 L397.50 505.49 L398.00 505.53 L398.50 505.58 L399.00 505.64 L399.50 505.69 L400.00 505.74 L400.50 505.80 L401.00 505.86 L401.50 505.92 L402.00 505.98 L402.50 506.04 L403.00 506.11 L403.50 506.17 L404.00 506.24 L404.50 506.31 L405.00 506.37 L405.50 506.44 L406.00 506.52 L406.50 506.59 L407.00 506.66 L407.50 506.73 L408.00 506.81 L408.50 506.88 L409.00 506.96 L409.50 507.04 L410.00 507.11 L410.50 507.19 L411.00 507.27 L411.50 507.35 L412.00 507.43 L412.50 507.50 L413.00 507.58 L413.50 507.66 L414.00 507.74 L414.50 507.82 L415.00 507.90 L415.50 507.98 L416.00 508.06 L416.50 508.14 L417.00 508.22 L417.50 508.30 L418.00 508.38 L418.50 508.46 L419.00 508.53 L419.50 508.61 L420.00 508.69 L420.50 508.77 L421.00 508.84 L421.50 508.92 L422.00 508.99 L422.50 509.06 L423.00 509.14 L423.50 509.21 L424.00 509.28 L424.50 509.35 L425.00 509.42 L425.50 509.49 L426.00 509.55 L426.50 509.62 L427.00 509.68 L427.50 509.74 L428.00 509.80 L428.50 509.86 L429.00 509.92 L429.50 509.98 L430.00 510.03 L430.50 510.09 L431.00 510.14 L431.50 510.19 L432.00 510.24 L432.50 510.28 L433.00 510.33 L433.50 510.37 L434.00 510.41 L434.50 510.45 L435.00 510.49 L435.50 510.53 L436.00 510.56 L436.50 510.60 L437.00 510.63 L437.50 510.66 L438.00 510.68 L438.50 510.71 L439.00 510.74 L439.50 510.76 L440.00 510.78 L440.50 510.80 L441.00 510.82 L441.50 510.83 L442.00 510.85 L442.50 510.86 L443.00 510.87 L443.50 510.88 L444.00 510.89 L444.50 510.89 L445.00 510.90 L445.50 510.90 L446.00 510.90 L446.50 510.90 L447.00 510.90 L447.50 510.89 L448.00 510.89 L448.50 510.88 L449.00 510.87 L449.50 510.86 L450.00 510.84 L450.50 510.83 L451.00 510.81 L451.50 510.80 L452.00 510.78 L452.50 510.75 L453.00 510.73 L453.50 510.70 L454.00 510.68 L454.50 510.65 L455.00 510.62 L455.50 510.59 L456.00 510.55 L456.50 510.52 L457.00 510.48 L457.50 510.44 L458.00 510.40 L458.50 510.36 L459.00 510.31 L459.50 510.27 L460.00 510.22 L460.50 510.17 L461.00 510.12 L461.50 510.07 L462.00 510.01 L462.50 509.95 L463.00 509.90 L463.50 509.84 L464.00 509.77 L464.50 509.71 L465.00 509.65 L465.50 509.58 L466.00 509.51 L466.50 509.44 L467.00 509.37 L467.50 509.29 L468.00 509.22 L468.50 509.14 L469.00 509.06 L469.50 508.98 L469.90 508.91" fill="none" stroke="#5b9bd5" stroke-width="1.2"/>
<path d="M204.00 525.80 L204.50 525.80 L205.00 525.80 L205.50 525.80 L206.00 525.80 L206.50 525.80 L207.00 525.80 L207.50 525.80 L208.00 525.80 L208.50 525.80 L209.00 525.80 L209.50 525.80 L210.00 525.80 L210.50 525.80 L211.00 525.80 L211.50 525.80 L212.00 525.80 L212.50 525.80 L213.00 525.80 L213.50 525.80 L214.00 525.80 L214.50 525.80 L215.00 525.80 L215.50 525.80 L216.00 525.80 L216.50 525.80 L217.00 525.80 L217.50 525.80 L218.00 525.80 L218.50 525.80 L219.00 525.80 L219.50 525.80 L220.00 525.80 L220.50 525.80 L221.00 525.80 L221.50 525.80 L222.00 525.80 L222.50 525.80 L223.00 525.80 L223.50 525.80 L224.00 525.80 L224.50 525.80 L225.00 525.80 L225.50 525.80 L226.00 525.80 L226.50 525.80 L227.00 525.80 L227.50 525.80 L228.00 525.80 L228.50 525.80 L229.00 525.80 L229.50 525.80 L230.00 525.80 L230.50 525.80 L231.00 525.80 L231.50 525.80 L232.00 525.80 L232.50 525.80 L233.00 525.80 L233.50 525.80 L234.00 525.80 L234.50 525.80 L235.00 525.80 L235.50 525.80 L236.00 525.80 L236.50 525.80 L237.00 525.80 L237.50 525.80 L238.00 525.80 L238.50 525.80 L239.00 525.80 L239.50 525.80 L240.00 525.80 L240.50 525.80 L241.00 525.80 L241.50 525.80 L242.00 525.80 L242.50 525.80 L243.00 525.80 L243.50 525.80 L244.00 525.80 L244.50 525.80 L245.00 525.80 L245.50 525.80 L246.00 525.80 L246.50 525.80 L247.00 525.80 L247.50 525.80 L248.00 525.80 L248.50 525.80 L249.00 525.80 L249.50 525.80 L250.00 525.80 L250.50 525.80 L251.00 525.80 L251.50 525.80 L252.00 525.80 L252.50 525.80 L253.00 525.80 L253.50 525.80 L254.00 525.80 L254.50 525.80 L255.00 525.80 L255.50 525.80 L256.00 525.80 L256.50 525.80 L257.00 525.80 L257.50 525.80 L258.00 525.80 L258.50 525.80 L259.00 525.80 L259.50 525.80 L260.00 525.80 L260.50 525.80 L261.00 525.80 L261.50 525.80 L262.00 525.80 L262.50 525.80 L263.00 525.80 L263.50 525.80 L264.00 525.80 L264.50 525.80 L265.00 525.80 L265.50 525.80 L266.00 525.80 L266.50 525.80 L267.00 525.80 L267.50 525.80 L268.00 525.80 L268.50 525.80 L269.00 525.80 L269.50 525.80 L270.00 525.80 L270.50 525.80 L271.00 525.80 L271.50 525.80 L272.00 525.80 L272.50 525.80 L273.00 525.80 L273.50 525.80 L274.00 525.80 L274.50 525.80 L275.00 525.80 L275.50 525.80 L276.00 525.80 L276.50 525.80 L277.00 525.80 L277.50 525.80 L278.00 525.80 L278.50 525.80 L279.00 525.80 L279.50 525.80 L280.00 525.80 L280.50 525.80 L281.00 525.80 L281.50 525.80 L282.00 525.80 L282.50 525.80 L283.00 525.80 L283.50 525.80 L284.00 525.80 L284.50 525.80 L285.00 525.80 L285.50 525.80 L286.00 525.80 L286.50 525.80 L287.00 525.80 L287.50 525.80 L288.00 525.80 L288.50 525.80 L289.00 525.80 L289.50 525.80 L290.00 525.80 L290.50 525.80 L291.00 525.80 L291.50 525.80 L292.00 525.80 L292.50 525.80 L293.00 525.80 L293.50 525.80 L294.00 525.80 L294.50 525.80 L295.00 525.80 L295.50 525.80 L296.00 525.80 L296.50 525.80 L297.00 525.80 L297.50 525.80 L298.00 525.80 L298.50 525.80 L299.00 525.80 L299.50 525.80 L300.00 525.80 L300.50 525.74 L301.00 525.68 L301.50 525.61 L302.00 525.54 L302.50 525.47 L303.00 525.39 L303.50 525.31 L304.00 525.22 L304.50 525.13 L305.00 525.03 L305.50 524.93 L306.00 524.82 L306.50 524.79 L307.00 524.77 L307.50 524.74 L308.00 524.71 L308.50 524.68 L309.00 524.65 L309.50 524.62 L310.00 524.58 L310.50 524.55 L311.00 524.52 L311.50 524.49 L312.00 524.45 L312.50 524.42 L313.00 524.38 L313.50 524.35 L314.00 524.32 L314.50 524.28 L315.00 524.24 L315.50 524.21 L316.00 524.17 L316.50 524.13 L317.00 524.09 L317.50 524.06 L318.00 524.02 L318.50 523.98 L319.00 523.94 L319.50 523.90 L320.00 523.86 L320.50 523.82 L321.00 523.78 L321.50 523.74 L322.00 523.70 L322.50 523.65 L323.00 523.61 L323.50 523.57 L324.00 523.53 L324.50 523.49 L325.00 523.45 L325.50 523.40 L326.00 523.36 L326.50 523.32 L327.00 523.28 L327.50 523.23 L328.00 523.19 L328.50 523.15 L329.00 523.11 L329.50 523.06 L330.00 523.02 L330.50 522.98 L331.00 522.94 L331.50 522.90 L332.00 522.85 L332.50 522.81 L333.00 522.77 L333.50 522.73 L334.00 522.69 L334.50 522.65 L335.00 522.61 L335.50 522.57 L336.00 522.53 L336.50 522.49 L337.00 522.45 L337.50 522.41 L338.00 522.37 L338.50 522.33 L339.00 522.30 L339.50 522.26 L340.00 522.22 L340.50 522.19 L341.00 522.15 L341.50 522.11 L342.00 522.08 L342.50 522.05 L343.00 522.01 L343.50 521.98 L344.00 521.95 L344.50 521.91 L345.00 521.88 L345.50 521.85 L346.00 521.82 L346.50 521.79 L347.00 521.76 L347.50 521.74 L348.00 521.71 L348.50 521.68 L349.00 521.66 L349.50 521.63 L350.00 521.61 L350.50 521.59 L351.00 521.57 L351.50 521.54 L352.00 521.52 L352.50 521.50 L353.00 521.49 L353.50 521.47 L354.00 521.45 L354.50 521.43 L355.00 521.42 L355.50 521.40 L356.00 521.39 L356.50 521.37 L357.00 521.36 L357.50 521.35 L358.00 521.34 L358.50 521.33 L359.00 521.32 L359.50 521.31 L360.00 521.30 L360.50 521.29 L361.00 521.28 L361.50 521.28 L362.00 521.27 L362.50 521.26 L363.00 521.26 L363.50 521.25 L364.00 521.25 L364.50 521.24 L365.00 521.24 L365.50 521.24 L366.00 521.24 L366.50 521.23 L367.00 521.23 L367.50 521.23 L368.00 521.23 L368.50 521.23 L369.00 521.23 L369.50 521.23 L370.00 521.23 L370.50 521.24 L371.00 521.24 L371.50 521.24 L372.00 521.24 L372.50 521.25 L373.00 521.25 L373.50 521.25 L374.00 521.26 L374.50 521.26 L375.00 521.26 L375.50 521.27 L376.00 521.27 L376.50 521.28 L377.00 521.28 L377.50 521.29 L378.00 521.30 L378.50 521.30 L379.00 521.31 L379.50 521.32 L380.00 521.32 L380.50 521.33 L381.00 521.34 L381.50 521.34 L382.00 521.35 L382.50 521.36 L383.00 521.36 L383.50 521.37 L384.00 521.38 L384.50 521.39 L385.00 521.39 L385.50 521.40 L386.00 521.41 L386.50 521.42 L387.00 521.42 L387.50 521.43 L388.00 521.44 L388.50 521.45 L389.00 521.45 L389.50 521.46 L390.00 521.47 L390.50 521.48 L391.00 521.48 L391.50 521.49 L392.00 521.50 L392.50 521.51 L393.00 521.51 L393.50 521.52 L394.00 521.53 L394.50 521.54 L395.00 521.54 L395.50 521.55 L396.00 521.56 L396.50 521.56 L397.00 521.57 L397.50 521.57 L398.00 521.58 L398.50 521.59 L399.00 521.59 L399.50 521.60 L400.00 521.60 L400.50 521.61 L401.00 521.61 L401.50 521.62 L402.00 521.62 L402.50 521.63 L403.00 521.63 L403.50 521.64 L404.00 521.64 L404.50 521.65 L405.00 521.65 L405.50 521.65 L406.00 521.66 L406.50 521.66 L407.00 521.66 L407.50 521.66 L408.00 521.67 L408.50 521.67 L409.00 521.67 L409.50 521.67 L410.00 521.67 L410.50 521.67 L411.00 521.67 L411.50 521.67 L412.00 521.67 L412.50 521.67 L413.00 521.67 L413.50 521.67 L414.00 521.67 L414.50 521.67 L415.00 521.66 L415.50 521.66 L416.00 521.66 L416.50 521.66 L417.00 521.65 L417.50 521.65 L418.00 521.64 L418.50 521.64 L419.00 521.63 L419.50 521.63 L420.00 521.62 L420.50 521.61 L421.00 521.61 L421.50 521.60 L422.00 521.59 L422.50 521.58 L423.00 521.57 L423.50 521.57 L424.00 521.56 L424.50 521.55 L425.00 521.53 L425.50 521.52 L426.00 521.51 L426.50 521.50 L427.00 521.49 L427.50 521.47 L428.00 521.46 L428.50 521.45 L429.00 521.43 L429.50 521.41 L430.00 521.40 L430.50 521.38 L431.00 521.37 L431.50 521.35 L432.00 521.33 L432.50 521.31 L433.00 521.29 L433.50 521.27 L434.00 521.25 L434.50 521.23 L435.00 521.21 L435.50 521.18 L436.00 521.16 L436.50 521.14 L437.00 521.11 L437.50 521.09 L438.00 521.06 L438.50 521.04 L439.00 521.01 L439.50 520.98 L440.00 520.95 L440.50 520.92 L441.00 520.89 L441.50 520.86 L442.00 520.83 L442.50 520.80 L443.00 520.77 L443.50 520.73 L444.00 520.70 L444.50 520.66 L445.00 520.63 L445.50 520.59 L446.00 520.56 L446.50 520.52 L447.00 520.48 L447.50 520.44 L448.00 520.40 L448.50 520.36 L449.00 520.32 L449.50 520.27 L450.00 520.23 L450.50 520.19 L451.00 520.14 L451.50 520.10 L452.00 520.05 L452.50 520.00 L453.00 519.95 L453.50 519.90 L454.00 519.85 L454.50 519.80 L455.00 519.75 L455.50 519.70 L456.00 519.64 L456.50 519.59 L457.00 519.53 L457.50 519.48 L458.00 519.42 L458.50 519.36 L459.00 519.30 L459.50 519.24 L460.00 519.18 L460.50 519.12 L461.00 519.05 L461.50 518.99 L462.00 518.93 L462.50 518.86 L463.00 518.79 L463.50 518.73 L464.00 518.66 L464.50 518.59 L465.00 518.52 L465.50 518.44 L466.00 518.37 L466.50 518.30 L467.00 518.22 L467.50 518.15 L468.00 518.07 L468.50 517.99 L469.00 517.91 L469.50 517.83 L469.90 517.77" fill="none" stroke="#d2691e" stroke-width="1.2"/>
<path d="M204.00 525.80 L204.50 525.80 L205.00 525.80 L205.50 525.80 L206.00 525.80 L206.50 525.80 L207.00 525.80 L207.50 525.80 L208.00 525.80 L208.50 525.80 L209.00 525.80 L209.50 525.80 L210.00 525.80 L210.50 525.80 L211.00 525.80 L211.50 525.80 L212.00 525.80 L212.50 525.80 L213.00 525.80 L213.50 525.80 L214.00 525.80 L214.50 525.80 L215.00 525.80 L215.50 525.80 L216.00 525.80 L216.50 525.80 L217.00 525.80 L217.50 525.80 L218.00 525.80 L218.50 525.80 L219.00 525.80 L219.50 525.80 L220.00 525.80 L220.50 525.80 L221.00 525.80 L221.50 525.80 L222.00 525.80 L222.50 525.80 L223.00 525.80 L223.50 525.80 L224.00 525.80 L224.50 525.80 L225.00 525.80 L225.50 525.80 L226.00 525.80 L226.50 525.80 L227.00 525.80 L227.50 525.80 L228.00 525.80 L228.50 525.80 L229.00 525.80 L229.50 525.80 L230.00 525.80 L230.50 525.80 L231.00 525.80 L231.50 525.80 L232.00 525.80 L232.50 525.80 L233.00 525.80 L233.50 525.80 L234.00 525.80 L234.50 525.80 L235.00 525.80 L235.50 525.80 L236.00 525.80 L236.50 525.80 L237.00 525.80 L237.50 525.80 L238.00 525.80 L238.50 525.80 L239.00 525.80 L239.50 525.80 L240.00 525.80 L240.50 525.80 L241.00 525.80 L241.50 525.80 L242.00 525.80 L242.50 525.80 L243.00 525.80 L243.50 525.80 L244.00 525.80 L244.50 525.80 L245.00 525.80 L245.50 525.80 L246.00 525.80 L246.50 525.80 L247.00 525.80 L247.50 525.80 L248.00 525.80 L248.50 525.80 L249.00 525.80 L249.50 525.80 L250.00 525.80 L250.50 525.80 L251.00 525.80 L251.50 525.80 L252.00 525.80 L252.50 525.80 L253.00 525.80 L253.50 525.80 L254.00 525.80 L254.50 525.80 L255.00 525.80 L255.50 525.80 L256.00 525.80 L256.50 525.80 L257.00 525.80 L257.50 525.80 L258.00 525.80 L258.50 525.80 L259.00 525.80 L259.50 525.80 L260.00 525.80 L260.50 525.80 L261.00 525.80 L261.50 525.80 L262.00 525.80 L262.50 525.80 L263.00 525.80 L263.50 525.80 L264.00 525.80 L264.50 525.80 L265.00 525.80 L265.50 525.80 L266.00 525.80 L266.50 525.80 L267.00 525.80 L267.50 525.80 L268.00 525.80 L268.50 525.80 L269.00 525.80 L269.50 525.80 L270.00 525.80 L270.50 525.80 L271.00 525.80 L271.50 525.80 L272.00 525.80 L272.50 525.80 L273.00 525.80 L273.50 525.80 L274.00 525.80 L274.50 525.80 L275.00 525.80 L275.50 525.80 L276.00 525.80 L276.50 525.80 L277.00 525.80 L277.50 525.80 L278.00 525.80 L278.50 525.80 L279.00 525.80 L279.50 525.80 L280.00 525.80 L280.50 525.79 L281.00 525.79 L281.50 525.78 L282.00 525.77 L282.50 525.76 L283.00 525.75 L283.50 525.74 L284.00 525.73 L284.50 525.72 L285.00 525.70 L285.50 525.68 L286.00 525.67 L286.50 525.66 L287.00 525.65 L287.50 525.64 L288.00 525.63 L288.50 525.62 L289.00 525.61 L289.50 525.60 L290.00 525.58 L290.50 525.57 L291.00 525.56 L291.50 525.54 L292.00 525.53 L292.50 525.51 L293.00 525.50 L293.50 525.48 L294.00 525.47 L294.50 525.45 L295.00 525.43 L295.50 525.41 L296.00 525.39 L296.50 525.37 L297.00 525.35 L297.50 525.33 L298.00 525.31 L298.50 525.28 L299.00 525.26 L299.50 525.24 L300.00 525.21 L300.50 525.19 L301.00 525.16 L301.50 525.13 L302.00 525.10 L302.50 525.07 L303.00 525.05 L303.50 525.01 L304.00 524.98 L304.50 524.95 L305.00 524.92 L305.50 524.88 L306.00 524.85 L306.50 524.81 L307.00 524.78 L307.50 524.74 L308.00 524.70 L308.50 524.66 L309.00 524.62 L309.50 524.58 L310.00 524.54 L310.50 524.50 L311.00 524.45 L311.50 524.41 L312.00 524.36 L312.50 524.32 L313.00 524.27 L313.50 524.22 L314.00 524.17 L314.50 524.12 L315.00 524.07 L315.50 524.02 L316.00 523.96 L316.50 523.90 L317.00 523.85 L317.50 523.79 L318.00 523.72 L318.50 523.65 L319.00 523.58 L319.50 523.51 L320.00 523.43 L320.50 523.34 L321.00 523.25 L321.50 523.16 L322.00 523.06 L322.50 522.95 L323.00 522.83 L323.50 522.71 L324.00 522.58 L324.50 522.44 L325.00 522.30 L325.50 522.14 L326.00 521.98 L326.50 521.80 L327.00 521.62 L327.50 521.43 L328.00 521.22 L328.50 521.00 L329.00 520.78 L329.50 520.54 L330.00 520.29 L330.50 520.02 L331.00 519.75 L331.50 519.46 L332.00 519.15 L332.50 518.83 L333.00 518.50 L333.50 518.15 L334.00 517.79 L334.50 517.41 L335.00 517.01 L335.50 516.60 L336.00 516.17 L336.50 515.71 L337.00 515.23 L337.50 514.71 L338.00 514.16 L338.50 513.57 L339.00 512.93 L339.50 512.25 L340.00 511.54 L340.50 510.78 L341.00 509.98 L341.50 509.14 L342.00 508.26 L342.50 507.35 L343.00 506.39 L343.50 505.40 L344.00 504.37 L344.50 503.30 L345.00 502.20 L345.50 501.07 L346.00 499.89 L346.50 498.69 L347.00 497.45 L347.50 496.18 L348.00 494.87 L348.50 493.54 L349.00 492.19 L349.50 490.81 L350.00 489.41 L350.50 488.00 L351.00 486.57 L351.50 485.12 L352.00 483.67 L352.50 482.21 L353.00 480.75 L353.50 479.28 L354.00 477.82 L354.50 476.36 L355.00 474.89 L355.50 473.43 L356.00 471.97 L356.50 470.51 L357.00 469.04 L357.50 467.57 L358.00 466.09 L358.50 464.61 L359.00 463.11 L359.50 461.61 L360.00 460.10 L360.50 458.57 L361.00 457.03 L361.50 455.47 L362.00 453.90 L362.50 452.32 L363.00 450.71 L363.50 449.08 L364.00 447.44 L364.50 445.77 L365.00 444.08 L365.50 442.36 L366.00 440.62 L366.50 438.85 L367.00 437.05 L367.50 435.22 L368.00 433.36 L368.50 431.47 L369.00 429.55 L369.50 427.59 L370.00 425.59 L370.50 423.56 L371.00 421.49 L371.50 419.38 L372.00 417.24 L372.50 415.05 L373.00 412.84 L373.50 410.59 L374.00 408.32 L374.50 406.02 L375.00 403.71 L375.50 401.37 L376.00 399.02 L376.50 396.65 L377.00 394.28 L377.50 391.90 L378.00 389.51 L378.50 387.13 L379.00 384.74 L379.50 382.36 L380.00 379.99 L380.50 377.62 L381.00 375.27 L381.50 372.92 L382.00 370.59 L382.50 368.28 L383.00 365.97 L383.50 363.68 L384.00 361.41 L384.50 359.16 L385.00 356.92 L385.50 354.70 L386.00 352.50 L386.50 350.32 L387.00 348.17 L387.50 346.04 L388.00 343.93 L388.50 341.84 L389.00 339.79 L389.50 337.76 L390.00 335.75 L390.50 333.78 L391.00 331.83 L391.50 329.92 L392.00 328.04 L392.50 326.19 L393.00 324.37 L393.50 322.59 L394.00 320.84 L394.50 319.13 L395.00 317.46 L395.50 315.83 L396.00 314.23 L396.50 312.68 L397.00 311.16 L397.50 309.69 L398.00 308.27 L398.50 306.88 L399.00 305.55 L399.50 304.25 L400.00 303.01 L400.50 301.81 L401.00 300.67 L401.50 299.56 L402.00 298.51 L402.50 297.51 L403.00 296.55 L403.50 295.64 L404.00 294.79 L404.50 293.98 L405.00 293.22 L405.50 292.51 L406.00 291.85 L406.50 291.24 L407.00 290.68 L407.50 290.18 L408.00 289.72 L408.50 289.31 L409.00 288.96 L409.50 288.65 L410.00 288.40 L410.50 288.20 L411.00 288.05 L411.50 287.96 L412.00 287.91 L412.50 287.92 L413.00 287.99 L413.50 288.10 L414.00 288.27 L414.50 288.49 L415.00 288.77 L415.50 289.10 L416.00 289.48 L416.50 289.92 L417.00 290.42 L417.50 290.96 L418.00 291.57 L418.50 292.23 L419.00 292.94 L419.50 293.71 L420.00 294.54 L420.50 295.41 L421.00 296.34 L421.50 297.32 L422.00 298.36 L422.50 299.44 L423.00 300.57 L423.50 301.75 L424.00 302.98 L424.50 304.25 L425.00 305.56 L425.50 306.93 L426.00 308.33 L426.50 309.78 L427.00 311.27 L427.50 312.80 L428.00 314.36 L428.50 315.97 L429.00 317.62 L429.50 319.30 L430.00 321.02 L430.50 322.77 L431.00 324.56 L431.50 326.38 L432.00 328.22 L432.50 330.09 L433.00 331.99 L433.50 333.90 L434.00 335.83 L434.50 337.78 L435.00 339.74 L435.50 341.71 L436.00 343.71 L436.50 345.72 L437.00 347.75 L437.50 349.79 L438.00 351.87 L438.50 353.96 L439.00 356.08 L439.50 358.23 L440.00 360.40 L440.50 362.60 L441.00 364.83 L441.50 367.09 L442.00 369.38 L442.50 371.70 L443.00 374.03 L443.50 376.37 L444.00 378.72 L444.50 381.08 L445.00 383.43 L445.50 385.78 L446.00 388.11 L446.50 390.43 L447.00 392.72 L447.50 394.99 L448.00 397.23 L448.50 399.46 L449.00 401.66 L449.50 403.84 L450.00 406.00 L450.50 408.14 L451.00 410.25 L451.50 412.34 L452.00 414.42 L452.50 416.47 L453.00 418.50 L453.50 420.51 L454.00 422.50 L454.50 424.47 L455.00 426.43 L455.50 428.36 L456.00 430.27 L456.50 432.16 L457.00 434.04 L457.50 435.89 L458.00 437.73 L458.50 439.55 L459.00 441.35 L459.50 443.13 L460.00 444.89 L460.50 446.64 L461.00 448.37 L461.50 450.08 L462.00 451.78 L462.50 453.46 L463.00 455.12 L463.50 456.77 L464.00 458.40 L464.50 460.01 L465.00 461.61 L465.50 463.20 L466.00 464.77 L466.50 466.32 L467.00 467.86 L467.50 469.38 L468.00 470.89 L468.50 472.39 L469.00 473.87 L469.50 475.33 L469.90 476.50" fill="none" stroke="#3d68ab" stroke-width="1.2"/>
<path d="M204.00 525.80 L204.50 525.80 L205.00 525.80 L205.50 525.80 L206.00 525.80 L206.50 525.80 L207.00 525.80 L207.50 525.80 L208.00 525.80 L208.50 525.80 L209.00 525.80 L209.50 525.80 L210.00 525.80 L210.50 525.80 L211.00 525.80 L211.50 525.80 L212.00 525.80 L212.50 525.80 L213.00 525.80 L213.50 525.80 L214.00 525.80 L214.50 525.80 L215.00 525.80 L215.50 525.80 L216.00 525.80 L216.50 525.80 L217.00 525.80 L217.50 525.80 L218.00 525.80 L218.50 525.80 L219.00 525.80 L219.50 525.80 L220.00 525.80 L220.50 525.80 L221.00 525.80 L221.50 525.80 L222.00 525.80 L222.50 525.80 L223.00 525.80 L223.50 525.80 L224.00 525.80 L224.50 525.80 L225.00 525.80 L225.50 525.80 L226.00 525.80 L226.50 525.80 L227.00 525.80 L227.50 525.80 L228.00 525.80 L228.50 525.80 L229.00 525.80 L229.50 525.80 L230.00 525.80 L230.50 525.80 L231.00 525.80 L231.50 525.80 L232.00 525.80 L232.50 525.80 L233.00 525.80 L233.50 525.80 L234.00 525.80 L234.50 525.80 L235.00 525.80 L235.50 525.80 L236.00 525.80 L236.50 525.80 L237.00 525.80 L237.50 525.80 L238.00 525.80 L238.50 525.80 L239.00 525.80 L239.50 525.80 L240.00 525.80 L240.50 525.80 L241.00 525.80 L241.50 525.80 L242.00 525.80 L242.50 525.80 L243.00 525.80 L243.50 525.80 L244.00 525.80 L244.50 525.80 L245.00 525.80 L245.50 525.80 L246.00 525.80 L246.50 525.80 L247.00 525.80 L247.50 525.80 L248.00 525.80 L248.50 525.80 L249.00 525.80 L249.50 525.80 L250.00 525.80 L250.50 525.80 L251.00 525.80 L251.50 525.80 L252.00 525.80 L252.50 525.80 L253.00 525.80 L253.50 525.80 L254.00 525.80 L254.50 525.80 L255.00 525.80 L255.50 525.80 L256.00 525.80 L256.50 525.80 L257.00 525.80 L257.50 525.80 L258.00 525.80 L258.50 525.80 L259.00 525.80 L259.50 525.80 L260.00 525.80 L260.50 525.80 L261.00 525.80 L261.50 525.80 L262.00 525.80 L262.50 525.80 L263.00 525.80 L263.50 525.80 L264.00 525.80 L264.50 525.80 L265.00 525.80 L265.50 525.80 L266.00 525.80 L266.50 525.80 L267.00 525.80 L267.50 525.80 L268.00 525.80 L268.50 525.80 L269.00 525.80 L269.50 525.80 L270.00 525.80 L270.50 525.80 L271.00 525.80 L271.50 525.80 L272.00 525.80 L272.50 525.80 L273.00 525.80 L273.50 525.80 L274.00 525.80 L274.50 525.80 L275.00 525.80 L275.50 525.80 L276.00 525.80 L276.50 525.80 L277.00 525.80 L277.50 525.80 L278.00 525.80 L278.50 525.80 L279.00 525.80 L279.50 525.80 L280.00 525.80 L280.50 525.80 L281.00 525.80 L281.50 525.80 L282.00 525.80 L282.50 525.80 L283.00 525.80 L283.50 525.80 L284.00 525.80 L284.50 525.80 L285.00 525.80 L285.50 525.80 L286.00 525.80 L286.50 525.80 L287.00 525.80 L287.50 525.80 L288.00 525.80 L288.50 525.80 L289.00 525.80 L289.50 525.80 L290.00 525.80 L290.50 525.80 L291.00 525.80 L291.50 525.80 L292.00 525.80 L292.50 525.80 L293.00 525.80 L293.50 525.80 L294.00 525.80 L294.50 525.80 L295.00 525.80 L295.50 525.80 L296.00 525.80 L296.50 525.80 L297.00 525.80 L297.50 525.80 L298.00 525.80 L298.50 525.80 L299.00 525.80 L299.50 525.80 L300.00 525.80 L300.50 525.80 L301.00 525.80 L301.50 525.80 L302.00 525.80 L302.50 525.78 L303.00 525.77 L303.50 525.75 L304.00 525.72 L304.50 525.69 L305.00 525.65 L305.50 525.61 L306.00 525.56 L306.50 525.52 L307.00 525.49 L307.50 525.45 L308.00 525.41 L308.50 525.37 L309.00 525.33 L309.50 525.29 L310.00 525.24 L310.50 525.20 L311.00 525.15 L311.50 525.10 L312.00 525.06 L312.50 525.00 L313.00 524.95 L313.50 524.90 L314.00 524.84 L314.50 524.79 L315.00 524.73 L315.50 524.67 L316.00 524.61 L316.50 524.54 L317.00 524.48 L317.50 524.41 L318.00 524.34 L318.50 524.27 L319.00 524.20 L319.50 524.13 L320.00 524.06 L320.50 523.98 L321.00 523.91 L321.50 523.83 L322.00 523.75 L322.50 523.67 L323.00 523.59 L323.50 523.50 L324.00 523.42 L324.50 523.33 L325.00 523.24 L325.50 523.15 L326.00 523.06 L326.50 522.97 L327.00 522.88 L327.50 522.79 L328.00 522.69 L328.50 522.59 L329.00 522.50 L329.50 522.40 L330.00 522.30 L330.50 522.19 L331.00 522.09 L331.50 521.99 L332.00 521.88 L332.50 521.78 L333.00 521.67 L333.50 521.56 L334.00 521.45 L334.50 521.34 L335.00 521.23 L335.50 521.12 L336.00 521.00 L336.50 520.89 L337.00 520.77 L337.50 520.65 L338.00 520.54 L338.50 520.42 L339.00 520.30 L339.50 520.18 L340.00 520.05 L340.50 519.93 L341.00 519.81 L341.50 519.68 L342.00 519.56 L342.50 519.43 L343.00 519.30 L343.50 519.18 L344.00 519.05 L344.50 518.92 L345.00 518.78 L345.50 518.65 L346.00 518.52 L346.50 518.39 L347.00 518.25 L347.50 518.12 L348.00 517.98 L348.50 517.85 L349.00 517.71 L349.50 517.57 L350.00 517.43 L350.50 517.29 L351.00 517.15 L351.50 517.01 L352.00 516.87 L352.50 516.73 L353.00 516.59 L353.50 516.44 L354.00 516.30 L354.50 516.15 L355.00 516.01 L355.50 515.86 L356.00 515.72 L356.50 515.57 L357.00 515.42 L357.50 515.28 L358.00 515.13 L358.50 514.98 L359.00 514.83 L359.50 514.68 L360.00 514.53 L360.50 514.38 L361.00 514.23 L361.50 514.08 L362.00 513.92 L362.50 513.77 L363.00 513.62 L363.50 513.46 L364.00 513.31 L364.50 513.16 L365.00 513.00 L365.50 512.85 L366.00 512.69 L366.50 512.54 L367.00 512.38 L367.50 512.23 L368.00 512.07 L368.50 511.92 L369.00 511.76 L369.50 511.60 L370.00 511.45 L370.50 511.29 L371.00 511.14 L371.50 510.98 L372.00 510.82 L372.50 510.67 L373.00 510.51 L373.50 510.35 L374.00 510.20 L374.50 510.04 L375.00 509.88 L375.50 509.73 L376.00 509.57 L376.50 509.41 L377.00 509.26 L377.50 509.10 L378.00 508.95 L378.50 508.79 L379.00 508.64 L379.50 508.48 L380.00 508.33 L380.50 508.17 L381.00 508.02 L381.50 507.86 L382.00 507.71 L382.50 507.56 L383.00 507.40 L383.50 507.25 L384.00 507.10 L384.50 506.95 L385.00 506.80 L385.50 506.64 L386.00 506.49 L386.50 506.34 L387.00 506.19 L387.50 506.05 L388.00 505.90 L388.50 505.75 L389.00 505.60 L389.50 505.45 L390.00 505.31 L390.50 505.16 L391.00 505.02 L391.50 504.87 L392.00 504.73 L392.50 504.59 L393.00 504.45 L393.50 504.30 L394.00 504.16 L394.50 504.02 L395.00 503.88 L395.50 503.75 L396.00 503.61 L396.50 503.47 L397.00 503.34 L397.50 503.20 L398.00 503.07 L398.50 502.94 L399.00 502.80 L399.50 502.67 L400.00 502.54 L400.50 502.41 L401.00 502.28 L401.50 502.16 L402.00 502.03 L402.50 501.90 L403.00 501.78 L403.50 501.65 L404.00 501.53 L404.50 501.41 L405.00 501.29 L405.50 501.17 L406.00 501.05 L406.50 500.93 L407.00 500.81 L407.50 500.69 L408.00 500.57 L408.50 500.46 L409.00 500.34 L409.50 500.23 L410.00 500.12 L410.50 500.00 L411.00 499.89 L411.50 499.78 L412.00 499.67 L412.50 499.56 L413.00 499.46 L413.50 499.35 L414.00 499.24 L414.50 499.14 L415.00 499.03 L415.50 498.93 L416.00 498.83 L416.50 498.73 L417.00 498.63 L417.50 498.53 L418.00 498.43 L418.50 498.33 L419.00 498.23 L419.50 498.13 L420.00 498.04 L420.50 497.94 L421.00 497.85 L421.50 497.76 L422.00 497.66 L422.50 497.57 L423.00 497.48 L423.50 497.39 L424.00 497.30 L424.50 497.21 L425.00 497.13 L425.50 497.04 L426.00 496.95 L426.50 496.87 L427.00 496.79 L427.50 496.70 L428.00 496.62 L428.50 496.54 L429.00 496.46 L429.50 496.38 L430.00 496.30 L430.50 496.22 L431.00 496.14 L431.50 496.07 L432.00 495.99 L432.50 495.92 L433.00 495.84 L433.50 495.77 L434.00 495.70 L434.50 495.63 L435.00 495.56 L435.50 495.49 L436.00 495.42 L436.50 495.35 L437.00 495.28 L437.50 495.22 L438.00 495.15 L438.50 495.09 L439.00 495.02 L439.50 494.96 L440.00 494.90 L440.50 494.84 L441.00 494.78 L441.50 494.72 L442.00 494.66 L442.50 494.60 L443.00 494.55 L443.50 494.49 L444.00 494.43 L444.50 494.38 L445.00 494.33 L445.50 494.27 L446.00 494.22 L446.50 494.17 L447.00 494.12 L447.50 494.07 L448.00 494.02 L448.50 493.97 L449.00 493.93 L449.50 493.88 L450.00 493.83 L450.50 493.79 L451.00 493.75 L451.50 493.70 L452.00 493.66 L452.50 493.62 L453.00 493.58 L453.50 493.54 L454.00 493.50 L454.50 493.46 L455.00 493.43 L455.50 493.39 L456.00 493.35 L456.50 493.32 L457.00 493.28 L457.50 493.25 L458.00 493.22 L458.50 493.19 L459.00 493.16 L459.50 493.13 L460.00 493.10 L460.50 493.07 L461.00 493.04 L461.50 493.02 L462.00 492.99 L462.50 492.97 L463.00 492.94 L463.50 492.92 L464.00 492.90 L464.50 492.87 L465.00 492.85 L465.50 492.83 L466.00 492.81 L466.50 492.80 L467.00 492.78 L467.50 492.76 L468.00 492.75 L468.50 492.73 L469.00 492.72 L469.50 492.70 L469.90 492.69" fill="none" stroke="#1f9c9c" stroke-width="1.2"/>
<path d="M204.00 525.8 V530.8" stroke="#303030" stroke-width="1"/>
<text x="204.00" y="543.50" font-size="12.10" text-anchor="middle">0</text>
<path d="M276.70 525.8 V530.8" stroke="#303030" stroke-width="1"/>
<text x="276.70" y="543.50" font-size="12.10" text-anchor="middle">20</text>
<path d="M349.40 525.8 V530.8" stroke="#303030" stroke-width="1"/>
<text x="349.40" y="543.50" font-size="12.10" text-anchor="middle">40</text>
<path d="M422.10 525.8 V530.8" stroke="#303030" stroke-width="1"/>
<text x="422.10" y="543.50" font-size="12.10" text-anchor="middle">60</text>
<path d="M494.80 525.8 V530.8" stroke="#303030" stroke-width="1"/>
<text x="494.80" y="543.50" font-size="12.10" text-anchor="middle">80</text>
<path d="M567.50 525.8 V530.8" stroke="#303030" stroke-width="1"/>
<text x="567.50" y="543.50" font-size="12.10" text-anchor="middle">100</text>
<path d="M199.0 525.80 H204.0" stroke="#303030" stroke-width="1"/>
<text x="195.80" y="530.10" font-size="11.80" text-anchor="end">0</text>
<path d="M199.0 471.94 H204.0" stroke="#303030" stroke-width="1"/>
<text x="196.40" y="476.24" font-size="11.6" text-anchor="end">1x10<tspan font-size="8.2" dy="-4.3">6</tspan></text>
<path d="M199.0 418.08 H204.0" stroke="#303030" stroke-width="1"/>
<text x="196.40" y="422.38" font-size="11.6" text-anchor="end">2x10<tspan font-size="8.2" dy="-4.3">6</tspan></text>
<path d="M199.0 364.22 H204.0" stroke="#303030" stroke-width="1"/>
<text x="196.40" y="368.52" font-size="11.6" text-anchor="end">3x10<tspan font-size="8.2" dy="-4.3">6</tspan></text>
<path d="M199.0 310.36 H204.0" stroke="#303030" stroke-width="1"/>
<text x="196.40" y="314.66" font-size="11.6" text-anchor="end">4x10<tspan font-size="8.2" dy="-4.3">6</tspan></text>
<path d="M199.0 256.50 H204.0" stroke="#303030" stroke-width="1"/>
<text x="196.40" y="260.80" font-size="11.6" text-anchor="end">5x10<tspan font-size="8.2" dy="-4.3">6</tspan></text>
<text x="387.75" y="560.20" font-size="13.50" text-anchor="middle">Day</text>
<text x="0" y="0" font-size="13.6" text-anchor="middle" transform="translate(149.20 385.50) rotate(-90)">Daily Infection Number</text>
<text transform="translate(103.5 256.3) scale(0.86 1)" font-size="15.4" font-weight="bold">C</text>
<path d="M124.0 585.8 H151.0" stroke="#e63a3c" stroke-width="1.8"/>
<text x="154.30" y="590.00" font-size="11.40" text-anchor="start">East England</text>
<path d="M225.0 585.8 H251.6" stroke="#5279b2" stroke-width="1.8"/>
<text x="254.90" y="590.00" font-size="11.40" text-anchor="start">London</text>
<path d="M317.4 585.8 H343.6" stroke="#f7c948" stroke-width="1.8"/>
<text x="346.50" y="590.00" font-size="11.40" text-anchor="start">Midlands</text>
<path d="M433.0 585.8 H459.0" stroke="#5ccf8a" stroke-width="1.8"/>
<text x="462.30" y="590.00" font-size="11.40" text-anchor="start">North East</text>
<path d="M519.6 585.8 H546.0" stroke="#7b7bb5" stroke-width="1.8"/>
<text x="549.30" y="590.00" font-size="11.40" text-anchor="start">North West</text>
<path d="M124.0 600.4 H151.0" stroke="#8c8c8c" stroke-width="1.4"/>
<text x="154.30" y="604.40" font-size="11.40" text-anchor="start">South East</text>
<path d="M225.0 600.4 H251.6" stroke="#f46464" stroke-width="1.4"/>
<text x="254.90" y="604.40" font-size="11.40" text-anchor="start">South West</text>
<path d="M317.4 600.4 H343.6" stroke="#6699cc" stroke-width="1.4"/>
<text x="346.50" y="604.40" font-size="11.40" text-anchor="start">Northern Ireland</text>
<path d="M433.0 600.4 H459.0" stroke="#d2662a" stroke-width="1.4"/>
<text x="462.30" y="604.40" font-size="11.40" text-anchor="start">Scotland</text>
<path d="M519.6 600.4 H546.0" stroke="#2a9d95" stroke-width="1.4"/>
<text x="549.30" y="604.40" font-size="11.40" text-anchor="start">Wales</text>
</svg>
</body></html>
